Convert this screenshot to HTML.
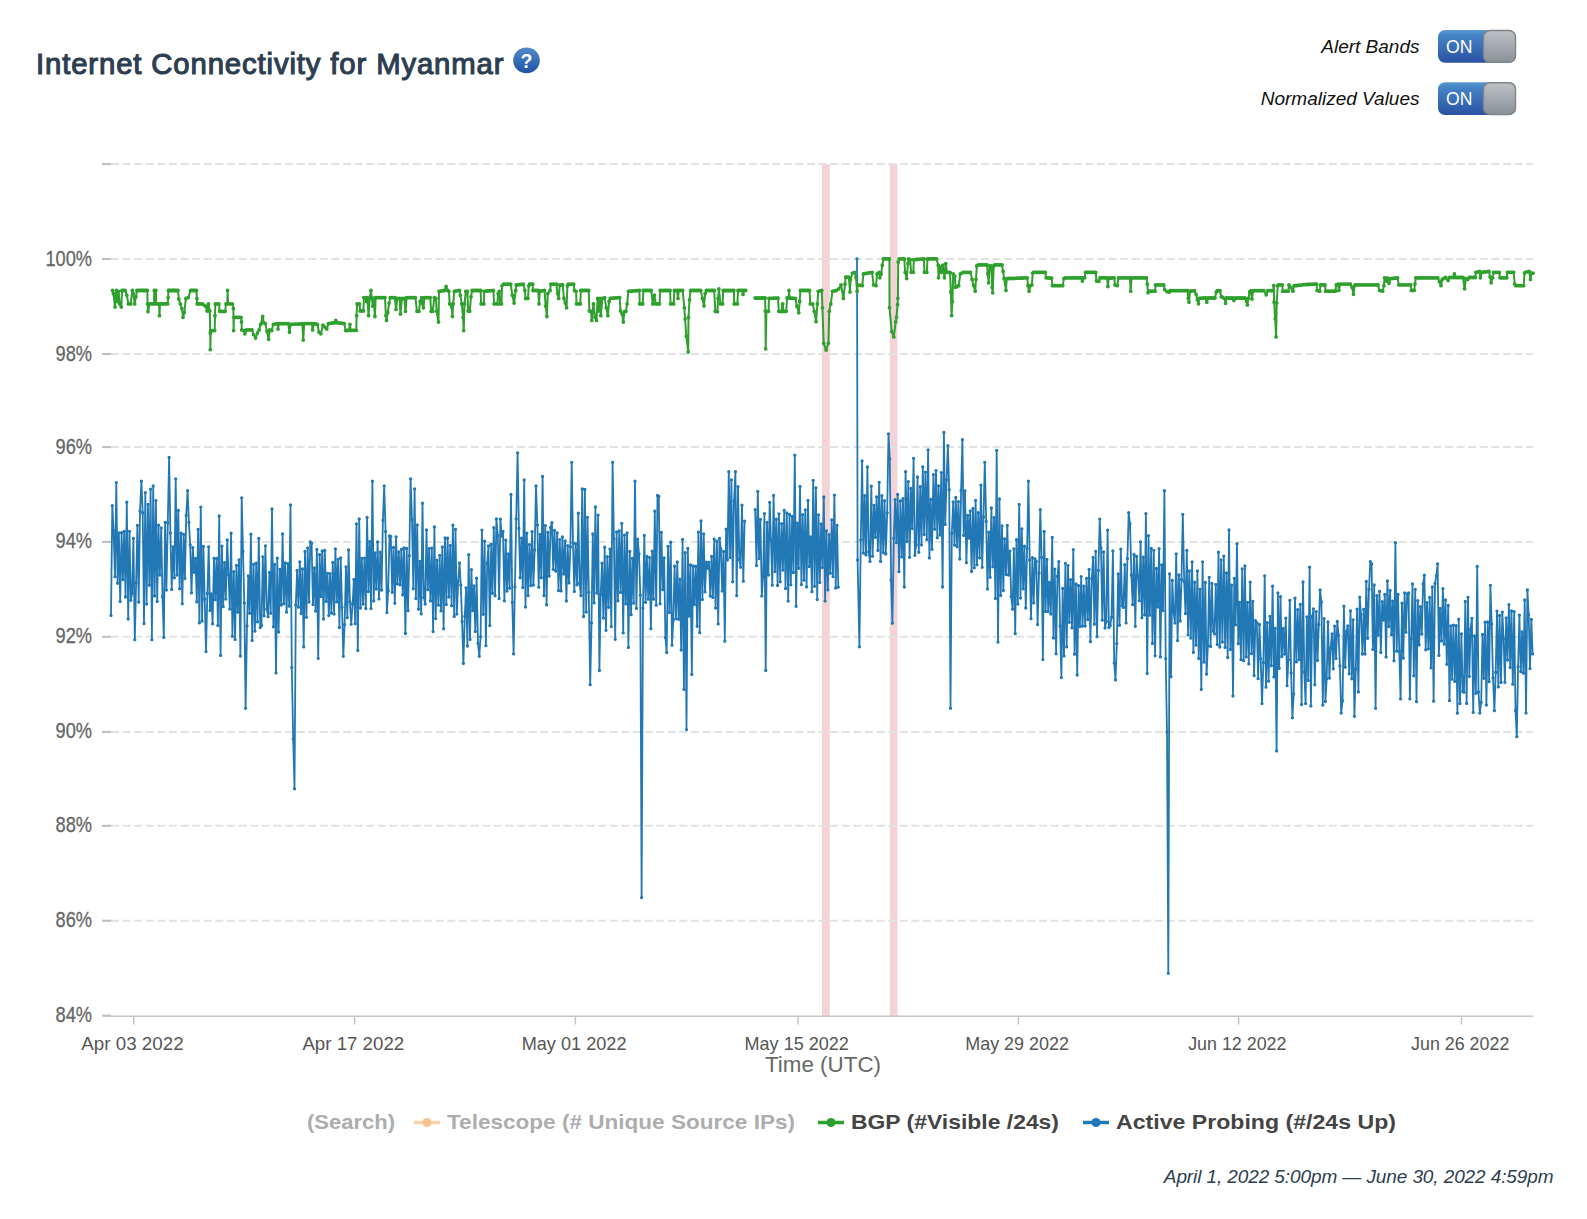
<!DOCTYPE html>
<html><head><meta charset="utf-8"><title>Internet Connectivity for Myanmar</title>
<style>
html,body{margin:0;padding:0;background:#fff;}
body{width:1587px;height:1219px;position:relative;overflow:hidden;font-family:"Liberation Sans",sans-serif;}
svg text{font-family:"Liberation Sans",sans-serif;}
.title{position:absolute;left:36px;top:44px;font-size:29.3px;line-height:40px;font-weight:normal;-webkit-text-stroke:1.1px #2c3e50;color:#2c3e50;white-space:nowrap;letter-spacing:0.87px;}
.lab{position:absolute;right:167.5px;font-style:italic;font-size:19px;line-height:24px;color:#111;white-space:nowrap;}
.foot{position:absolute;right:33.5px;top:1165px;font-style:italic;font-size:19px;line-height:24px;color:#2c3e50;white-space:nowrap;letter-spacing:-0.1px;}
</style></head><body>
<svg width="1587" height="1219" viewBox="0 0 1587 1219" style="position:absolute;left:0;top:0">
<defs><linearGradient id="gb" x1="0" y1="0" x2="0" y2="1"><stop offset="0" stop-color="#5a98d2"/><stop offset="0.15" stop-color="#4485c6"/><stop offset="1" stop-color="#2b52a3"/></linearGradient><linearGradient id="gk" x1="0" y1="0" x2="0" y2="1"><stop offset="0" stop-color="#bcc1c5"/><stop offset="1" stop-color="#8a9197"/></linearGradient><linearGradient id="gq" x1="0" y1="0" x2="0" y2="1"><stop offset="0" stop-color="#5288c9"/><stop offset="1" stop-color="#1c55a6"/></linearGradient></defs>
<rect x="822" y="164" width="7.8" height="852" fill="#f4d3d7"/>
<rect x="889.8" y="164" width="7.6" height="852" fill="#f4d3d7"/>
<line x1="111" x2="1533" y1="164.1" y2="164.1" stroke="#e2e2e2" stroke-width="2" stroke-dasharray="8 3.6"/>
<line x1="111" x2="1533" y1="259.0" y2="259.0" stroke="#e2e2e2" stroke-width="2" stroke-dasharray="8 3.6"/>
<line x1="111" x2="1533" y1="354.0" y2="354.0" stroke="#e2e2e2" stroke-width="2" stroke-dasharray="8 3.6"/>
<line x1="111" x2="1533" y1="447.1" y2="447.1" stroke="#e2e2e2" stroke-width="2" stroke-dasharray="8 3.6"/>
<line x1="111" x2="1533" y1="541.9" y2="541.9" stroke="#e2e2e2" stroke-width="2" stroke-dasharray="8 3.6"/>
<line x1="111" x2="1533" y1="636.8" y2="636.8" stroke="#e2e2e2" stroke-width="2" stroke-dasharray="8 3.6"/>
<line x1="111" x2="1533" y1="731.9" y2="731.9" stroke="#e2e2e2" stroke-width="2" stroke-dasharray="8 3.6"/>
<line x1="111" x2="1533" y1="825.8" y2="825.8" stroke="#e2e2e2" stroke-width="2" stroke-dasharray="8 3.6"/>
<line x1="111" x2="1533" y1="920.7" y2="920.7" stroke="#e2e2e2" stroke-width="2" stroke-dasharray="8 3.6"/>
<line x1="102" x2="111" y1="164.1" y2="164.1" stroke="#bdbdbd" stroke-width="2"/>
<line x1="102" x2="111" y1="259.0" y2="259.0" stroke="#bdbdbd" stroke-width="2"/>
<line x1="102" x2="111" y1="354.0" y2="354.0" stroke="#bdbdbd" stroke-width="2"/>
<line x1="102" x2="111" y1="447.1" y2="447.1" stroke="#bdbdbd" stroke-width="2"/>
<line x1="102" x2="111" y1="541.9" y2="541.9" stroke="#bdbdbd" stroke-width="2"/>
<line x1="102" x2="111" y1="636.8" y2="636.8" stroke="#bdbdbd" stroke-width="2"/>
<line x1="102" x2="111" y1="731.9" y2="731.9" stroke="#bdbdbd" stroke-width="2"/>
<line x1="102" x2="111" y1="825.8" y2="825.8" stroke="#bdbdbd" stroke-width="2"/>
<line x1="102" x2="111" y1="920.7" y2="920.7" stroke="#bdbdbd" stroke-width="2"/>
<line x1="102" x2="111" y1="1015.6" y2="1015.6" stroke="#bdbdbd" stroke-width="2"/>
<line x1="103" x2="1533" y1="1016.2" y2="1016.2" stroke="#c6c6c6" stroke-width="1.6"/>
<line x1="133.8" x2="133.8" y1="1016" y2="1024.5" stroke="#c6c6c6" stroke-width="1.5"/>
<line x1="354.6" x2="354.6" y1="1016" y2="1024.5" stroke="#c6c6c6" stroke-width="1.5"/>
<line x1="575.4" x2="575.4" y1="1016" y2="1024.5" stroke="#c6c6c6" stroke-width="1.5"/>
<line x1="798.0" x2="798.0" y1="1016" y2="1024.5" stroke="#c6c6c6" stroke-width="1.5"/>
<line x1="1018.4" x2="1018.4" y1="1016" y2="1024.5" stroke="#c6c6c6" stroke-width="1.5"/>
<line x1="1238.6" x2="1238.6" y1="1016" y2="1024.5" stroke="#c6c6c6" stroke-width="1.5"/>
<line x1="1461.5" x2="1461.5" y1="1016" y2="1024.5" stroke="#c6c6c6" stroke-width="1.5"/>
<text x="92" y="265.5" text-anchor="end" font-size="22.6" fill="#666" stroke="#666" stroke-width="0.3" textLength="46.5" lengthAdjust="spacingAndGlyphs">100%</text>
<text x="92" y="360.5" text-anchor="end" font-size="22.6" fill="#666" stroke="#666" stroke-width="0.3" textLength="36.5" lengthAdjust="spacingAndGlyphs">98%</text>
<text x="92" y="453.6" text-anchor="end" font-size="22.6" fill="#666" stroke="#666" stroke-width="0.3" textLength="36.5" lengthAdjust="spacingAndGlyphs">96%</text>
<text x="92" y="548.4" text-anchor="end" font-size="22.6" fill="#666" stroke="#666" stroke-width="0.3" textLength="36.5" lengthAdjust="spacingAndGlyphs">94%</text>
<text x="92" y="643.3" text-anchor="end" font-size="22.6" fill="#666" stroke="#666" stroke-width="0.3" textLength="36.5" lengthAdjust="spacingAndGlyphs">92%</text>
<text x="92" y="738.4" text-anchor="end" font-size="22.6" fill="#666" stroke="#666" stroke-width="0.3" textLength="36.5" lengthAdjust="spacingAndGlyphs">90%</text>
<text x="92" y="832.3" text-anchor="end" font-size="22.6" fill="#666" stroke="#666" stroke-width="0.3" textLength="36.5" lengthAdjust="spacingAndGlyphs">88%</text>
<text x="92" y="927.2" text-anchor="end" font-size="22.6" fill="#666" stroke="#666" stroke-width="0.3" textLength="36.5" lengthAdjust="spacingAndGlyphs">86%</text>
<text x="92" y="1022.1" text-anchor="end" font-size="22.6" fill="#666" stroke="#666" stroke-width="0.3" textLength="36.5" lengthAdjust="spacingAndGlyphs">84%</text>
<text x="132.5" y="1049.8" text-anchor="middle" font-size="19" fill="#555" textLength="102.3" lengthAdjust="spacingAndGlyphs">Apr 03 2022</text>
<text x="353.3" y="1049.8" text-anchor="middle" font-size="19" fill="#555" textLength="101.8" lengthAdjust="spacingAndGlyphs">Apr 17 2022</text>
<text x="574.1" y="1049.8" text-anchor="middle" font-size="19" fill="#555" textLength="104.8" lengthAdjust="spacingAndGlyphs">May 01 2022</text>
<text x="796.7" y="1049.8" text-anchor="middle" font-size="19" fill="#555" textLength="104.3" lengthAdjust="spacingAndGlyphs">May 15 2022</text>
<text x="1017.1" y="1049.8" text-anchor="middle" font-size="19" fill="#555" textLength="103.8" lengthAdjust="spacingAndGlyphs">May 29 2022</text>
<text x="1237.3" y="1049.8" text-anchor="middle" font-size="19" fill="#555" textLength="98.3" lengthAdjust="spacingAndGlyphs">Jun 12 2022</text>
<text x="1460.2" y="1049.8" text-anchor="middle" font-size="19" fill="#555" textLength="98.3" lengthAdjust="spacingAndGlyphs">Jun 26 2022</text>
<text x="823" y="1071.6" text-anchor="middle" font-size="21.8" fill="#686868" textLength="116" lengthAdjust="spacingAndGlyphs">Time (UTC)</text>
<path d="M111.0 615.4 L112.3 505.7 L113.6 530.9 L115.0 576.7 L116.3 482.6 L117.6 583.3 L118.9 532.9 L120.2 601.6 L121.6 532.6 L122.9 579.7 L124.2 531.3 L125.5 597.0 L126.8 502.2 L128.2 619.0 L129.5 531.3 L130.8 600.3 L132.1 593.2 L133.4 538.4 L134.8 639.7 L136.1 583.2 L137.4 525.3 L138.7 602.2 L140.0 511.0 L141.4 481.2 L142.7 513.0 L144.0 623.6 L145.3 492.7 L146.6 604.1 L148.0 504.3 L149.3 585.3 L150.6 489.2 L151.9 639.7 L153.2 485.9 L154.6 595.9 L155.9 500.6 L157.2 601.4 L158.5 525.2 L159.8 575.0 L161.2 527.9 L162.5 596.7 L163.8 637.4 L165.1 522.3 L166.4 590.1 L167.8 522.7 L169.1 457.5 L170.4 533.1 L171.7 589.4 L173.0 546.8 L174.4 577.8 L175.7 478.8 L177.0 575.1 L178.3 510.3 L179.6 588.8 L181.0 533.1 L182.3 603.8 L183.6 534.3 L184.9 578.6 L186.2 515.5 L187.6 490.7 L188.9 522.5 L190.2 544.9 L191.5 592.9 L192.8 547.6 L194.2 572.3 L195.5 558.4 L196.8 601.9 L198.1 529.4 L199.4 622.9 L200.8 507.1 L202.1 621.0 L203.4 546.4 L204.7 599.2 L206.0 651.6 L207.4 593.3 L208.7 546.8 L210.0 610.4 L211.3 593.8 L212.6 623.8 L214.0 558.3 L215.3 599.7 L216.6 558.4 L217.9 625.5 L219.2 515.9 L220.6 655.4 L221.9 546.2 L223.2 606.7 L224.5 562.6 L225.8 599.1 L227.2 539.9 L228.5 574.6 L229.8 609.1 L231.1 533.2 L232.4 636.3 L233.8 571.7 L235.1 639.4 L236.4 565.5 L237.7 612.2 L239.0 560.0 L240.4 656.1 L241.7 497.8 L243.0 551.6 L244.3 603.1 L245.6 708.3 L247.0 625.9 L248.3 575.9 L249.6 613.3 L250.9 534.2 L252.2 640.4 L253.6 564.3 L254.9 631.2 L256.2 563.1 L257.5 621.9 L258.8 538.5 L260.2 627.6 L261.5 625.6 L262.8 556.8 L264.1 615.8 L265.4 545.8 L266.8 609.2 L268.1 616.7 L269.4 572.3 L270.7 613.3 L272.0 509.0 L273.4 626.8 L274.7 564.3 L276.0 672.9 L277.3 558.1 L278.6 632.0 L280.0 569.4 L281.3 605.1 L282.6 533.9 L283.9 603.7 L285.2 562.8 L286.6 612.2 L287.9 563.7 L289.2 606.2 L290.5 504.9 L291.8 667.4 L293.2 739.1 L294.5 788.8 L295.8 605.0 L297.1 570.5 L298.4 607.2 L299.8 561.8 L301.1 613.6 L302.4 569.0 L303.7 646.9 L305.0 551.5 L306.4 617.3 L307.7 548.0 L309.0 602.0 L310.3 542.0 L311.6 543.4 L313.0 604.6 L314.3 567.9 L315.6 611.1 L316.9 549.4 L318.2 658.3 L319.6 554.7 L320.9 596.5 L322.2 551.0 L323.5 619.1 L324.8 550.3 L326.2 601.4 L327.5 573.3 L328.8 615.6 L330.1 573.6 L331.4 613.1 L332.8 562.5 L334.1 614.1 L335.4 548.8 L336.7 601.9 L338.0 559.3 L339.4 627.5 L340.7 558.0 L342.0 607.1 L343.3 656.3 L344.6 624.6 L346.0 566.8 L347.3 617.6 L348.6 549.9 L349.9 601.9 L351.2 624.3 L352.6 604.2 L353.9 579.4 L355.2 623.7 L356.5 523.8 L357.8 650.4 L359.2 519.0 L360.5 608.0 L361.8 558.3 L363.1 604.2 L364.4 558.1 L365.8 608.5 L367.1 517.4 L368.4 591.6 L369.7 541.6 L371.0 608.6 L372.4 481.2 L373.7 601.0 L375.0 552.9 L376.3 589.0 L377.6 541.9 L379.0 598.9 L380.3 552.2 L381.6 590.2 L382.9 520.3 L384.2 485.9 L385.6 531.6 L386.9 612.6 L388.2 590.7 L389.5 536.0 L390.8 536.4 L392.2 592.3 L393.5 547.4 L394.8 603.3 L396.1 536.8 L397.4 583.9 L398.8 552.0 L400.1 584.8 L401.4 549.4 L402.7 594.9 L404.0 548.0 L405.4 633.5 L406.7 548.4 L408.0 610.7 L409.3 555.8 L410.6 478.8 L412.0 519.6 L413.3 588.8 L414.6 488.9 L415.9 598.5 L417.2 524.9 L418.6 609.2 L419.9 561.5 L421.2 613.9 L422.5 503.2 L423.8 597.4 L425.2 604.0 L426.5 530.0 L427.8 589.7 L429.1 548.6 L430.4 600.9 L431.8 548.1 L433.1 631.6 L434.4 527.0 L435.7 618.6 L437.0 560.2 L438.4 605.2 L439.7 555.3 L441.0 610.9 L442.3 547.0 L443.6 628.8 L445.0 537.8 L446.3 604.6 L447.6 538.2 L448.9 597.0 L450.2 545.5 L451.6 605.7 L452.9 525.2 L454.2 616.4 L455.5 529.3 L456.8 614.1 L458.2 581.3 L459.5 563.0 L460.8 585.2 L462.1 621.4 L463.4 663.4 L464.8 616.3 L466.1 587.8 L467.4 646.0 L468.7 554.7 L470.0 639.4 L471.4 569.6 L472.7 610.7 L474.0 585.8 L475.3 631.6 L476.6 578.2 L478.0 643.3 L479.3 656.3 L480.6 636.8 L481.9 530.1 L483.2 614.3 L484.6 541.2 L485.9 645.7 L487.2 563.4 L488.5 545.9 L489.8 625.6 L491.2 544.2 L492.5 593.3 L493.8 527.6 L495.1 595.8 L496.4 518.9 L497.8 535.6 L499.1 598.5 L500.4 519.2 L501.7 536.1 L503.0 531.3 L504.4 600.8 L505.7 540.1 L507.0 591.1 L508.3 553.9 L509.6 588.3 L511.0 494.4 L512.3 602.4 L513.6 653.9 L514.9 587.0 L516.2 518.9 L517.6 452.8 L518.9 528.3 L520.2 577.7 L521.5 538.1 L522.8 587.7 L524.2 480.0 L525.5 607.1 L526.8 533.2 L528.1 595.7 L529.4 544.6 L530.8 585.6 L532.1 531.7 L533.4 585.0 L534.7 549.9 L536.0 485.9 L537.4 525.1 L538.7 587.2 L540.0 534.4 L541.3 577.7 L542.6 476.5 L544.0 595.7 L545.3 525.6 L546.6 604.9 L547.9 532.5 L549.2 576.1 L550.6 527.4 L551.9 522.7 L553.2 569.3 L554.5 530.3 L555.8 571.2 L557.2 533.0 L558.5 590.6 L559.8 539.6 L561.1 590.9 L562.4 536.9 L563.8 574.0 L565.1 541.0 L566.4 601.0 L567.7 545.6 L569.0 582.9 L570.4 547.0 L571.7 462.3 L573.0 542.7 L574.3 591.5 L575.6 543.7 L577.0 584.8 L578.3 513.2 L579.6 583.0 L580.9 595.7 L582.2 488.8 L583.6 616.5 L584.9 489.4 L586.2 612.1 L587.5 517.3 L588.8 592.3 L590.2 684.7 L591.5 623.0 L592.8 534.0 L594.1 602.9 L595.4 506.9 L596.8 593.0 L598.1 515.2 L599.4 670.5 L600.7 594.4 L602.0 563.2 L603.4 618.1 L604.7 547.2 L606.0 630.3 L607.3 556.7 L608.6 607.3 L610.0 549.1 L611.3 626.6 L612.6 462.3 L613.9 538.8 L615.2 639.3 L616.6 531.9 L617.9 600.8 L619.2 530.9 L620.5 592.4 L621.8 523.3 L623.2 632.9 L624.5 535.1 L625.8 603.8 L627.1 533.0 L628.4 647.4 L629.8 551.5 L631.1 614.7 L632.4 558.3 L633.7 603.2 L635.0 481.2 L636.4 608.4 L637.7 539.1 L639.0 553.8 L640.3 595.2 L641.6 897.6 L643.0 608.1 L644.3 535.5 L645.6 602.3 L646.9 556.5 L648.2 599.2 L649.6 557.6 L650.9 628.7 L652.2 551.1 L653.5 599.2 L654.8 511.2 L656.2 605.2 L657.5 495.4 L658.8 496.5 L660.1 603.8 L661.4 532.3 L662.8 589.7 L664.1 557.9 L665.4 637.5 L666.7 652.5 L668.0 546.5 L669.4 612.6 L670.7 542.2 L672.0 645.2 L673.3 620.3 L674.6 566.2 L676.0 618.6 L677.3 562.0 L678.6 619.3 L679.9 579.2 L681.2 650.0 L682.6 539.4 L683.9 689.4 L685.2 552.7 L686.5 729.6 L687.8 548.5 L689.2 616.2 L690.5 565.0 L691.8 674.4 L693.1 566.0 L694.4 604.5 L695.8 566.5 L697.1 626.3 L698.4 532.1 L699.7 632.7 L701.0 521.0 L702.4 599.6 L703.7 534.0 L705.0 591.9 L706.3 562.1 L707.6 568.3 L709.0 562.5 L710.3 596.0 L711.6 556.3 L712.9 597.4 L714.2 539.1 L715.6 608.1 L716.9 541.2 L718.2 623.9 L719.5 538.4 L720.8 548.9 L722.2 591.0 L723.5 551.5 L724.8 641.2 L726.1 529.1 L727.4 560.1 L728.8 471.7 L730.1 557.4 L731.4 479.8 L732.7 581.8 L734.0 501.1 L735.4 471.7 L736.7 595.6 L738.0 486.7 L739.3 559.7 L740.6 567.3 L742.0 505.2 L743.3 581.2 L744.6 521.1" fill="none" stroke="#2278b5" stroke-width="1.8" stroke-linejoin="round"/>
<path d="M111.0 615.4h0M112.3 505.7h0M113.6 530.9h0M115.0 576.7h0M116.3 482.6h0M117.6 583.3h0M118.9 532.9h0M120.2 601.6h0M121.6 532.6h0M122.9 579.7h0M124.2 531.3h0M125.5 597.0h0M126.8 502.2h0M128.2 619.0h0M129.5 531.3h0M130.8 600.3h0M132.1 593.2h0M133.4 538.4h0M134.8 639.7h0M136.1 583.2h0M137.4 525.3h0M138.7 602.2h0M140.0 511.0h0M141.4 481.2h0M142.7 513.0h0M144.0 623.6h0M145.3 492.7h0M146.6 604.1h0M148.0 504.3h0M149.3 585.3h0M150.6 489.2h0M151.9 639.7h0M153.2 485.9h0M154.6 595.9h0M155.9 500.6h0M157.2 601.4h0M158.5 525.2h0M159.8 575.0h0M161.2 527.9h0M162.5 596.7h0M163.8 637.4h0M165.1 522.3h0M166.4 590.1h0M167.8 522.7h0M169.1 457.5h0M170.4 533.1h0M171.7 589.4h0M173.0 546.8h0M174.4 577.8h0M175.7 478.8h0M177.0 575.1h0M178.3 510.3h0M179.6 588.8h0M181.0 533.1h0M182.3 603.8h0M183.6 534.3h0M184.9 578.6h0M186.2 515.5h0M187.6 490.7h0M188.9 522.5h0M190.2 544.9h0M191.5 592.9h0M192.8 547.6h0M194.2 572.3h0M195.5 558.4h0M196.8 601.9h0M198.1 529.4h0M199.4 622.9h0M200.8 507.1h0M202.1 621.0h0M203.4 546.4h0M204.7 599.2h0M206.0 651.6h0M207.4 593.3h0M208.7 546.8h0M210.0 610.4h0M211.3 593.8h0M212.6 623.8h0M214.0 558.3h0M215.3 599.7h0M216.6 558.4h0M217.9 625.5h0M219.2 515.9h0M220.6 655.4h0M221.9 546.2h0M223.2 606.7h0M224.5 562.6h0M225.8 599.1h0M227.2 539.9h0M228.5 574.6h0M229.8 609.1h0M231.1 533.2h0M232.4 636.3h0M233.8 571.7h0M235.1 639.4h0M236.4 565.5h0M237.7 612.2h0M239.0 560.0h0M240.4 656.1h0M241.7 497.8h0M243.0 551.6h0M244.3 603.1h0M245.6 708.3h0M247.0 625.9h0M248.3 575.9h0M249.6 613.3h0M250.9 534.2h0M252.2 640.4h0M253.6 564.3h0M254.9 631.2h0M256.2 563.1h0M257.5 621.9h0M258.8 538.5h0M260.2 627.6h0M261.5 625.6h0M262.8 556.8h0M264.1 615.8h0M265.4 545.8h0M266.8 609.2h0M268.1 616.7h0M269.4 572.3h0M270.7 613.3h0M272.0 509.0h0M273.4 626.8h0M274.7 564.3h0M276.0 672.9h0M277.3 558.1h0M278.6 632.0h0M280.0 569.4h0M281.3 605.1h0M282.6 533.9h0M283.9 603.7h0M285.2 562.8h0M286.6 612.2h0M287.9 563.7h0M289.2 606.2h0M290.5 504.9h0M291.8 667.4h0M293.2 739.1h0M294.5 788.8h0M295.8 605.0h0M297.1 570.5h0M298.4 607.2h0M299.8 561.8h0M301.1 613.6h0M302.4 569.0h0M303.7 646.9h0M305.0 551.5h0M306.4 617.3h0M307.7 548.0h0M309.0 602.0h0M310.3 542.0h0M311.6 543.4h0M313.0 604.6h0M314.3 567.9h0M315.6 611.1h0M316.9 549.4h0M318.2 658.3h0M319.6 554.7h0M320.9 596.5h0M322.2 551.0h0M323.5 619.1h0M324.8 550.3h0M326.2 601.4h0M327.5 573.3h0M328.8 615.6h0M330.1 573.6h0M331.4 613.1h0M332.8 562.5h0M334.1 614.1h0M335.4 548.8h0M336.7 601.9h0M338.0 559.3h0M339.4 627.5h0M340.7 558.0h0M342.0 607.1h0M343.3 656.3h0M344.6 624.6h0M346.0 566.8h0M347.3 617.6h0M348.6 549.9h0M349.9 601.9h0M351.2 624.3h0M352.6 604.2h0M353.9 579.4h0M355.2 623.7h0M356.5 523.8h0M357.8 650.4h0M359.2 519.0h0M360.5 608.0h0M361.8 558.3h0M363.1 604.2h0M364.4 558.1h0M365.8 608.5h0M367.1 517.4h0M368.4 591.6h0M369.7 541.6h0M371.0 608.6h0M372.4 481.2h0M373.7 601.0h0M375.0 552.9h0M376.3 589.0h0M377.6 541.9h0M379.0 598.9h0M380.3 552.2h0M381.6 590.2h0M382.9 520.3h0M384.2 485.9h0M385.6 531.6h0M386.9 612.6h0M388.2 590.7h0M389.5 536.0h0M390.8 536.4h0M392.2 592.3h0M393.5 547.4h0M394.8 603.3h0M396.1 536.8h0M397.4 583.9h0M398.8 552.0h0M400.1 584.8h0M401.4 549.4h0M402.7 594.9h0M404.0 548.0h0M405.4 633.5h0M406.7 548.4h0M408.0 610.7h0M409.3 555.8h0M410.6 478.8h0M412.0 519.6h0M413.3 588.8h0M414.6 488.9h0M415.9 598.5h0M417.2 524.9h0M418.6 609.2h0M419.9 561.5h0M421.2 613.9h0M422.5 503.2h0M423.8 597.4h0M425.2 604.0h0M426.5 530.0h0M427.8 589.7h0M429.1 548.6h0M430.4 600.9h0M431.8 548.1h0M433.1 631.6h0M434.4 527.0h0M435.7 618.6h0M437.0 560.2h0M438.4 605.2h0M439.7 555.3h0M441.0 610.9h0M442.3 547.0h0M443.6 628.8h0M445.0 537.8h0M446.3 604.6h0M447.6 538.2h0M448.9 597.0h0M450.2 545.5h0M451.6 605.7h0M452.9 525.2h0M454.2 616.4h0M455.5 529.3h0M456.8 614.1h0M458.2 581.3h0M459.5 563.0h0M460.8 585.2h0M462.1 621.4h0M463.4 663.4h0M464.8 616.3h0M466.1 587.8h0M467.4 646.0h0M468.7 554.7h0M470.0 639.4h0M471.4 569.6h0M472.7 610.7h0M474.0 585.8h0M475.3 631.6h0M476.6 578.2h0M478.0 643.3h0M479.3 656.3h0M480.6 636.8h0M481.9 530.1h0M483.2 614.3h0M484.6 541.2h0M485.9 645.7h0M487.2 563.4h0M488.5 545.9h0M489.8 625.6h0M491.2 544.2h0M492.5 593.3h0M493.8 527.6h0M495.1 595.8h0M496.4 518.9h0M497.8 535.6h0M499.1 598.5h0M500.4 519.2h0M501.7 536.1h0M503.0 531.3h0M504.4 600.8h0M505.7 540.1h0M507.0 591.1h0M508.3 553.9h0M509.6 588.3h0M511.0 494.4h0M512.3 602.4h0M513.6 653.9h0M514.9 587.0h0M516.2 518.9h0M517.6 452.8h0M518.9 528.3h0M520.2 577.7h0M521.5 538.1h0M522.8 587.7h0M524.2 480.0h0M525.5 607.1h0M526.8 533.2h0M528.1 595.7h0M529.4 544.6h0M530.8 585.6h0M532.1 531.7h0M533.4 585.0h0M534.7 549.9h0M536.0 485.9h0M537.4 525.1h0M538.7 587.2h0M540.0 534.4h0M541.3 577.7h0M542.6 476.5h0M544.0 595.7h0M545.3 525.6h0M546.6 604.9h0M547.9 532.5h0M549.2 576.1h0M550.6 527.4h0M551.9 522.7h0M553.2 569.3h0M554.5 530.3h0M555.8 571.2h0M557.2 533.0h0M558.5 590.6h0M559.8 539.6h0M561.1 590.9h0M562.4 536.9h0M563.8 574.0h0M565.1 541.0h0M566.4 601.0h0M567.7 545.6h0M569.0 582.9h0M570.4 547.0h0M571.7 462.3h0M573.0 542.7h0M574.3 591.5h0M575.6 543.7h0M577.0 584.8h0M578.3 513.2h0M579.6 583.0h0M580.9 595.7h0M582.2 488.8h0M583.6 616.5h0M584.9 489.4h0M586.2 612.1h0M587.5 517.3h0M588.8 592.3h0M590.2 684.7h0M591.5 623.0h0M592.8 534.0h0M594.1 602.9h0M595.4 506.9h0M596.8 593.0h0M598.1 515.2h0M599.4 670.5h0M600.7 594.4h0M602.0 563.2h0M603.4 618.1h0M604.7 547.2h0M606.0 630.3h0M607.3 556.7h0M608.6 607.3h0M610.0 549.1h0M611.3 626.6h0M612.6 462.3h0M613.9 538.8h0M615.2 639.3h0M616.6 531.9h0M617.9 600.8h0M619.2 530.9h0M620.5 592.4h0M621.8 523.3h0M623.2 632.9h0M624.5 535.1h0M625.8 603.8h0M627.1 533.0h0M628.4 647.4h0M629.8 551.5h0M631.1 614.7h0M632.4 558.3h0M633.7 603.2h0M635.0 481.2h0M636.4 608.4h0M637.7 539.1h0M639.0 553.8h0M640.3 595.2h0M641.6 897.6h0M643.0 608.1h0M644.3 535.5h0M645.6 602.3h0M646.9 556.5h0M648.2 599.2h0M649.6 557.6h0M650.9 628.7h0M652.2 551.1h0M653.5 599.2h0M654.8 511.2h0M656.2 605.2h0M657.5 495.4h0M658.8 496.5h0M660.1 603.8h0M661.4 532.3h0M662.8 589.7h0M664.1 557.9h0M665.4 637.5h0M666.7 652.5h0M668.0 546.5h0M669.4 612.6h0M670.7 542.2h0M672.0 645.2h0M673.3 620.3h0M674.6 566.2h0M676.0 618.6h0M677.3 562.0h0M678.6 619.3h0M679.9 579.2h0M681.2 650.0h0M682.6 539.4h0M683.9 689.4h0M685.2 552.7h0M686.5 729.6h0M687.8 548.5h0M689.2 616.2h0M690.5 565.0h0M691.8 674.4h0M693.1 566.0h0M694.4 604.5h0M695.8 566.5h0M697.1 626.3h0M698.4 532.1h0M699.7 632.7h0M701.0 521.0h0M702.4 599.6h0M703.7 534.0h0M705.0 591.9h0M706.3 562.1h0M707.6 568.3h0M709.0 562.5h0M710.3 596.0h0M711.6 556.3h0M712.9 597.4h0M714.2 539.1h0M715.6 608.1h0M716.9 541.2h0M718.2 623.9h0M719.5 538.4h0M720.8 548.9h0M722.2 591.0h0M723.5 551.5h0M724.8 641.2h0M726.1 529.1h0M727.4 560.1h0M728.8 471.7h0M730.1 557.4h0M731.4 479.8h0M732.7 581.8h0M734.0 501.1h0M735.4 471.7h0M736.7 595.6h0M738.0 486.7h0M739.3 559.7h0M740.6 567.3h0M742.0 505.2h0M743.3 581.2h0M744.6 521.1h0" fill="none" stroke="#2278b5" stroke-width="3.3" stroke-linecap="round"/>
<path d="M755.2 509.6 L756.5 565.6 L757.8 491.5 L759.1 558.6 L760.4 519.4 L761.8 596.1 L763.1 576.4 L764.4 513.6 L765.7 670.5 L767.0 522.5 L768.4 575.0 L769.7 502.3 L771.0 540.5 L772.3 585.2 L773.6 495.4 L775.0 571.5 L776.3 519.2 L777.6 585.5 L778.9 513.8 L780.2 581.8 L781.6 523.6 L782.9 570.1 L784.2 510.3 L785.5 588.6 L786.8 512.9 L788.2 601.1 L789.5 514.4 L790.8 584.8 L792.1 516.3 L793.4 572.5 L794.8 455.2 L796.1 606.3 L797.4 523.1 L798.7 568.3 L800.0 486.5 L801.4 584.6 L802.7 514.7 L804.0 580.2 L805.3 509.8 L806.6 586.9 L808.0 500.5 L809.3 566.6 L810.6 536.8 L811.9 591.7 L813.2 480.5 L814.6 586.3 L815.9 487.8 L817.2 599.6 L818.5 514.8 L819.8 582.6 L821.2 523.9 L822.5 567.6 L823.8 497.0 L825.1 601.1 L826.4 530.8 L827.8 589.9 L829.1 534.6 L830.4 573.3 L831.7 519.8 L833.0 576.6 L834.4 495.1 L835.7 588.0 L837.0 525.4 L838.3 587.2" fill="none" stroke="#2278b5" stroke-width="1.8" stroke-linejoin="round"/>
<path d="M755.2 509.6h0M756.5 565.6h0M757.8 491.5h0M759.1 558.6h0M760.4 519.4h0M761.8 596.1h0M763.1 576.4h0M764.4 513.6h0M765.7 670.5h0M767.0 522.5h0M768.4 575.0h0M769.7 502.3h0M771.0 540.5h0M772.3 585.2h0M773.6 495.4h0M775.0 571.5h0M776.3 519.2h0M777.6 585.5h0M778.9 513.8h0M780.2 581.8h0M781.6 523.6h0M782.9 570.1h0M784.2 510.3h0M785.5 588.6h0M786.8 512.9h0M788.2 601.1h0M789.5 514.4h0M790.8 584.8h0M792.1 516.3h0M793.4 572.5h0M794.8 455.2h0M796.1 606.3h0M797.4 523.1h0M798.7 568.3h0M800.0 486.5h0M801.4 584.6h0M802.7 514.7h0M804.0 580.2h0M805.3 509.8h0M806.6 586.9h0M808.0 500.5h0M809.3 566.6h0M810.6 536.8h0M811.9 591.7h0M813.2 480.5h0M814.6 586.3h0M815.9 487.8h0M817.2 599.6h0M818.5 514.8h0M819.8 582.6h0M821.2 523.9h0M822.5 567.6h0M823.8 497.0h0M825.1 601.1h0M826.4 530.8h0M827.8 589.9h0M829.1 534.6h0M830.4 573.3h0M831.7 519.8h0M833.0 576.6h0M834.4 495.1h0M835.7 588.0h0M837.0 525.4h0M838.3 587.2h0" fill="none" stroke="#2278b5" stroke-width="3.3" stroke-linecap="round"/>
<path d="M857.0 258.8 L857.6 560.0 L859.4 646.8 L860.8 539.8 L862.1 460.9 L863.4 553.1 L864.7 495.6 L866.0 554.9 L867.4 467.0 L868.7 551.9 L870.0 561.4 L871.3 486.2 L872.6 556.2 L874.0 505.3 L875.3 537.3 L876.6 496.9 L877.9 550.4 L879.2 482.3 L880.6 561.4 L881.9 495.7 L883.2 552.7 L884.5 500.7 L885.8 554.0 L887.2 512.8 L888.5 433.9 L889.8 458.8 L891.1 580.2 L892.4 623.2 L893.8 538.2 L895.1 499.7 L896.4 542.6 L897.7 494.5 L899.0 571.7 L900.4 501.0 L901.7 556.9 L903.0 498.7 L904.3 587.0 L905.6 471.7 L907.0 541.5 L908.3 481.6 L909.6 557.3 L910.9 488.4 L912.2 528.6 L913.6 458.4 L914.9 555.3 L916.2 545.0 L917.5 476.9 L918.8 552.3 L920.2 486.7 L921.5 544.9 L922.8 467.0 L924.1 534.5 L925.4 472.1 L926.8 539.6 L928.1 449.9 L929.4 557.9 L930.7 499.5 L932.0 549.3 L933.4 474.6 L934.7 529.2 L936.0 470.6 L937.3 537.8 L938.6 485.8 L940.0 535.0 L941.3 472.6 L942.6 587.0 L943.9 432.4 L945.2 524.4 L946.6 479.8 L947.9 445.7 L949.2 489.7 L950.5 708.3 L951.8 533.3 L953.2 502.0 L954.5 545.1 L955.8 497.5 L957.1 546.7 L958.4 501.6 L959.8 559.0 L961.1 490.7 L962.4 439.7 L963.7 535.4 L965.0 490.9 L966.4 562.7 L967.7 515.5 L969.0 538.2 L970.3 510.9 L971.6 571.5 L973.0 508.4 L974.3 567.8 L975.6 500.3 L976.9 564.8 L978.2 512.7 L979.6 557.9 L980.9 485.2 L982.2 567.3 L983.5 517.0 L984.8 462.3 L986.2 521.5 L987.5 589.1 L988.8 532.1 L990.1 577.3 L991.4 508.0 L992.8 566.8 L994.1 517.7 L995.4 598.4 L996.7 450.4 L998.0 642.1 L999.4 498.9 L1000.7 595.4 L1002.0 525.8 L1003.3 590.5 L1004.6 538.8 L1006.0 574.6 L1007.3 525.3 L1008.6 575.0 L1009.9 551.2 L1011.2 596.6 L1012.6 609.2 L1013.9 548.9 L1015.2 633.7 L1016.5 539.7 L1017.8 604.0 L1019.2 504.4 L1020.5 598.1 L1021.8 529.0 L1023.1 588.8 L1024.4 546.2 L1025.8 608.0 L1027.1 548.6 L1028.4 481.2 L1029.7 560.0 L1031.0 618.7 L1032.4 557.6 L1033.7 602.9 L1035.0 559.0 L1036.3 561.5 L1037.6 624.6 L1039.0 573.2 L1040.3 509.6 L1041.6 557.4 L1042.9 659.6 L1044.2 531.5 L1045.6 611.4 L1046.9 559.4 L1048.2 611.6 L1049.5 582.3 L1050.8 614.0 L1052.2 537.4 L1053.5 638.0 L1054.8 569.1 L1056.1 653.8 L1057.4 576.5 L1058.8 561.6 L1060.1 626.0 L1061.4 677.6 L1062.7 588.4 L1064.0 655.9 L1065.4 563.3 L1066.7 646.9 L1068.0 565.6 L1069.3 622.3 L1070.6 579.7 L1072.0 627.9 L1073.3 549.6 L1074.6 654.2 L1075.9 584.0 L1077.2 675.0 L1078.6 585.7 L1079.9 626.5 L1081.2 576.6 L1082.5 626.1 L1083.8 586.2 L1085.2 626.1 L1086.5 578.3 L1087.8 619.6 L1089.1 569.5 L1090.4 641.7 L1091.8 578.5 L1093.1 557.5 L1094.4 624.2 L1095.7 551.3 L1097.0 636.7 L1098.4 570.3 L1099.7 519.1 L1101.0 548.3 L1102.3 620.2 L1103.6 551.9 L1105.0 628.1 L1106.3 621.5 L1107.6 530.1 L1108.9 627.5 L1110.2 625.5 L1111.6 617.2 L1112.9 551.0 L1114.2 663.0 L1115.5 679.9 L1116.8 643.5 L1118.2 573.9 L1119.5 625.3 L1120.8 549.1 L1122.1 605.8 L1123.4 607.4 L1124.8 564.7 L1126.1 622.9 L1127.4 558.5 L1128.7 512.7 L1130.0 523.8 L1131.4 575.2 L1132.7 604.7 L1134.0 554.4 L1135.3 626.3 L1136.6 556.3 L1138.0 576.4 L1139.3 600.7 L1140.6 541.8 L1141.9 617.8 L1143.2 557.1 L1144.6 614.9 L1145.9 513.7 L1147.2 673.5 L1148.5 535.6 L1149.8 615.2 L1151.2 548.3 L1152.5 643.4 L1153.8 550.3 L1155.1 655.8 L1156.4 568.5 L1157.8 607.1 L1159.1 548.7 L1160.4 656.9 L1161.7 565.0 L1163.0 610.7 L1164.4 490.7 L1165.7 658.6 L1167.0 732.0 L1168.3 973.3 L1169.6 573.8 L1171.0 676.8 L1172.3 580.4 L1173.6 611.7 L1174.9 623.1 L1176.2 553.9 L1177.6 640.6 L1178.9 574.9 L1180.2 621.1 L1181.5 579.5 L1182.8 514.3 L1184.2 581.5 L1185.5 613.5 L1186.8 550.4 L1188.1 634.9 L1189.4 571.0 L1190.8 638.1 L1192.1 561.9 L1193.4 652.4 L1194.7 582.2 L1196.0 645.1 L1197.4 570.9 L1198.7 658.5 L1200.0 589.5 L1201.3 689.4 L1202.6 561.8 L1204.0 662.2 L1205.3 582.5 L1206.6 674.2 L1207.9 645.5 L1209.2 577.3 L1210.6 646.5 L1211.9 583.5 L1213.2 631.1 L1214.5 633.9 L1215.8 584.5 L1217.2 644.5 L1218.5 552.2 L1219.8 647.0 L1221.1 559.8 L1222.4 642.1 L1223.8 556.1 L1225.1 647.4 L1226.4 572.9 L1227.7 657.5 L1229.0 529.9 L1230.4 649.5 L1231.7 585.1 L1233.0 696.0 L1234.3 578.5 L1235.6 624.8 L1237.0 543.7 L1238.3 643.7 L1239.6 602.3 L1240.9 659.6 L1242.2 568.9 L1243.6 660.7 L1244.9 565.9 L1246.2 656.9 L1247.5 602.3 L1248.8 663.9 L1250.2 582.1 L1251.5 653.6 L1252.8 601.3 L1254.1 675.5 L1255.4 620.6 L1256.8 622.6 L1258.1 678.7 L1259.4 624.4 L1260.7 658.9 L1262.0 703.6 L1263.4 662.7 L1264.7 575.8 L1266.0 687.2 L1267.3 622.7 L1268.6 681.2 L1270.0 616.3 L1271.3 665.7 L1272.6 586.2 L1273.9 676.9 L1275.2 628.4 L1276.6 750.9 L1277.9 593.0 L1279.2 668.4 L1280.5 596.6 L1281.8 656.5 L1283.2 628.5 L1284.5 654.0 L1285.8 618.1 L1287.1 685.6 L1288.4 659.8 L1289.8 600.3 L1291.1 673.0 L1292.4 717.8 L1293.7 694.1 L1295.0 598.2 L1296.4 661.9 L1297.7 609.7 L1299.0 659.7 L1300.3 604.3 L1301.6 704.5 L1303.0 581.9 L1304.3 672.1 L1305.6 703.6 L1306.9 616.8 L1308.2 680.4 L1309.6 567.2 L1310.9 706.0 L1312.2 616.7 L1313.5 608.8 L1314.8 684.8 L1316.2 611.6 L1317.5 660.4 L1318.8 624.6 L1320.1 590.0 L1321.4 602.0 L1322.8 705.1 L1324.1 618.6 L1325.4 701.5 L1326.7 678.7 L1328.0 621.8 L1329.4 678.0 L1330.7 648.0 L1332.0 633.8 L1333.3 668.8 L1334.6 626.1 L1336.0 658.4 L1337.3 621.5 L1338.6 635.3 L1339.9 666.0 L1341.2 713.1 L1342.6 700.6 L1343.9 606.2 L1345.2 667.2 L1346.5 631.6 L1347.8 625.8 L1349.2 673.8 L1350.5 610.8 L1351.8 678.8 L1353.1 619.8 L1354.4 716.3 L1355.8 669.0 L1357.1 609.1 L1358.4 691.9 L1359.7 597.1 L1361.0 614.4 L1362.4 654.0 L1363.7 609.4 L1365.0 654.1 L1366.3 581.5 L1367.6 638.3 L1369.0 589.4 L1370.3 561.6 L1371.6 564.0 L1372.9 649.4 L1374.2 584.9 L1375.6 708.3 L1376.9 595.7 L1378.2 635.2 L1379.5 591.3 L1380.8 652.5 L1382.2 601.7 L1383.5 620.0 L1384.8 594.5 L1386.1 657.0 L1387.4 580.9 L1388.8 626.5 L1390.1 590.5 L1391.4 634.7 L1392.7 601.2 L1394.0 660.8 L1395.4 542.7 L1396.7 651.2 L1398.0 594.5 L1399.3 651.3 L1400.6 698.9 L1402.0 603.2 L1403.3 658.2 L1404.6 592.8 L1405.9 632.2 L1407.2 593.8 L1408.6 593.0 L1409.9 698.9 L1411.2 638.8 L1412.5 583.9 L1413.8 675.8 L1415.2 589.5 L1416.5 701.7 L1417.8 600.7 L1419.1 644.9 L1420.4 606.7 L1421.8 634.1 L1423.1 583.9 L1424.4 575.2 L1425.7 649.8 L1427.0 602.7 L1428.4 648.8 L1429.7 597.5 L1431.0 667.8 L1432.3 586.9 L1433.6 701.2 L1435.0 583.5 L1436.3 575.8 L1437.6 563.8 L1438.9 655.4 L1440.2 608.5 L1441.6 641.0 L1442.9 588.7 L1444.2 644.2 L1445.5 600.0 L1446.8 664.3 L1448.2 605.5 L1449.5 700.7 L1450.8 626.0 L1452.1 679.2 L1453.4 625.1 L1454.8 681.4 L1456.1 625.7 L1457.4 713.2 L1458.7 619.1 L1460.0 703.6 L1461.4 634.0 L1462.7 691.6 L1464.0 692.2 L1465.3 601.4 L1466.6 703.4 L1468.0 597.3 L1469.3 676.4 L1470.6 629.6 L1471.9 618.3 L1473.2 712.4 L1474.6 635.9 L1475.9 693.3 L1477.2 566.4 L1478.5 691.9 L1479.8 713.1 L1481.2 702.5 L1482.5 634.5 L1483.8 678.3 L1485.1 622.2 L1486.4 705.1 L1487.8 621.9 L1489.1 681.7 L1490.4 585.3 L1491.7 624.1 L1493.0 678.0 L1494.4 710.7 L1495.7 672.5 L1497.0 611.1 L1498.3 686.9 L1499.6 615.4 L1501.0 682.5 L1502.3 612.1 L1503.6 638.6 L1504.9 682.3 L1506.2 617.8 L1507.6 660.1 L1508.9 604.6 L1510.2 667.4 L1511.5 610.9 L1512.8 684.2 L1514.2 611.6 L1515.5 710.6 L1516.8 736.7 L1518.1 666.8 L1519.4 615.2 L1520.8 671.6 L1522.1 631.8 L1523.4 673.2 L1524.7 599.9 L1526.0 713.1 L1527.4 590.0 L1528.7 614.8 L1530.0 668.6 L1531.3 619.4 L1532.6 653.9" fill="none" stroke="#2278b5" stroke-width="1.8" stroke-linejoin="round"/>
<path d="M857.0 258.8h0M857.6 560.0h0M859.4 646.8h0M860.8 539.8h0M862.1 460.9h0M863.4 553.1h0M864.7 495.6h0M866.0 554.9h0M867.4 467.0h0M868.7 551.9h0M870.0 561.4h0M871.3 486.2h0M872.6 556.2h0M874.0 505.3h0M875.3 537.3h0M876.6 496.9h0M877.9 550.4h0M879.2 482.3h0M880.6 561.4h0M881.9 495.7h0M883.2 552.7h0M884.5 500.7h0M885.8 554.0h0M887.2 512.8h0M888.5 433.9h0M889.8 458.8h0M891.1 580.2h0M892.4 623.2h0M893.8 538.2h0M895.1 499.7h0M896.4 542.6h0M897.7 494.5h0M899.0 571.7h0M900.4 501.0h0M901.7 556.9h0M903.0 498.7h0M904.3 587.0h0M905.6 471.7h0M907.0 541.5h0M908.3 481.6h0M909.6 557.3h0M910.9 488.4h0M912.2 528.6h0M913.6 458.4h0M914.9 555.3h0M916.2 545.0h0M917.5 476.9h0M918.8 552.3h0M920.2 486.7h0M921.5 544.9h0M922.8 467.0h0M924.1 534.5h0M925.4 472.1h0M926.8 539.6h0M928.1 449.9h0M929.4 557.9h0M930.7 499.5h0M932.0 549.3h0M933.4 474.6h0M934.7 529.2h0M936.0 470.6h0M937.3 537.8h0M938.6 485.8h0M940.0 535.0h0M941.3 472.6h0M942.6 587.0h0M943.9 432.4h0M945.2 524.4h0M946.6 479.8h0M947.9 445.7h0M949.2 489.7h0M950.5 708.3h0M951.8 533.3h0M953.2 502.0h0M954.5 545.1h0M955.8 497.5h0M957.1 546.7h0M958.4 501.6h0M959.8 559.0h0M961.1 490.7h0M962.4 439.7h0M963.7 535.4h0M965.0 490.9h0M966.4 562.7h0M967.7 515.5h0M969.0 538.2h0M970.3 510.9h0M971.6 571.5h0M973.0 508.4h0M974.3 567.8h0M975.6 500.3h0M976.9 564.8h0M978.2 512.7h0M979.6 557.9h0M980.9 485.2h0M982.2 567.3h0M983.5 517.0h0M984.8 462.3h0M986.2 521.5h0M987.5 589.1h0M988.8 532.1h0M990.1 577.3h0M991.4 508.0h0M992.8 566.8h0M994.1 517.7h0M995.4 598.4h0M996.7 450.4h0M998.0 642.1h0M999.4 498.9h0M1000.7 595.4h0M1002.0 525.8h0M1003.3 590.5h0M1004.6 538.8h0M1006.0 574.6h0M1007.3 525.3h0M1008.6 575.0h0M1009.9 551.2h0M1011.2 596.6h0M1012.6 609.2h0M1013.9 548.9h0M1015.2 633.7h0M1016.5 539.7h0M1017.8 604.0h0M1019.2 504.4h0M1020.5 598.1h0M1021.8 529.0h0M1023.1 588.8h0M1024.4 546.2h0M1025.8 608.0h0M1027.1 548.6h0M1028.4 481.2h0M1029.7 560.0h0M1031.0 618.7h0M1032.4 557.6h0M1033.7 602.9h0M1035.0 559.0h0M1036.3 561.5h0M1037.6 624.6h0M1039.0 573.2h0M1040.3 509.6h0M1041.6 557.4h0M1042.9 659.6h0M1044.2 531.5h0M1045.6 611.4h0M1046.9 559.4h0M1048.2 611.6h0M1049.5 582.3h0M1050.8 614.0h0M1052.2 537.4h0M1053.5 638.0h0M1054.8 569.1h0M1056.1 653.8h0M1057.4 576.5h0M1058.8 561.6h0M1060.1 626.0h0M1061.4 677.6h0M1062.7 588.4h0M1064.0 655.9h0M1065.4 563.3h0M1066.7 646.9h0M1068.0 565.6h0M1069.3 622.3h0M1070.6 579.7h0M1072.0 627.9h0M1073.3 549.6h0M1074.6 654.2h0M1075.9 584.0h0M1077.2 675.0h0M1078.6 585.7h0M1079.9 626.5h0M1081.2 576.6h0M1082.5 626.1h0M1083.8 586.2h0M1085.2 626.1h0M1086.5 578.3h0M1087.8 619.6h0M1089.1 569.5h0M1090.4 641.7h0M1091.8 578.5h0M1093.1 557.5h0M1094.4 624.2h0M1095.7 551.3h0M1097.0 636.7h0M1098.4 570.3h0M1099.7 519.1h0M1101.0 548.3h0M1102.3 620.2h0M1103.6 551.9h0M1105.0 628.1h0M1106.3 621.5h0M1107.6 530.1h0M1108.9 627.5h0M1110.2 625.5h0M1111.6 617.2h0M1112.9 551.0h0M1114.2 663.0h0M1115.5 679.9h0M1116.8 643.5h0M1118.2 573.9h0M1119.5 625.3h0M1120.8 549.1h0M1122.1 605.8h0M1123.4 607.4h0M1124.8 564.7h0M1126.1 622.9h0M1127.4 558.5h0M1128.7 512.7h0M1130.0 523.8h0M1131.4 575.2h0M1132.7 604.7h0M1134.0 554.4h0M1135.3 626.3h0M1136.6 556.3h0M1138.0 576.4h0M1139.3 600.7h0M1140.6 541.8h0M1141.9 617.8h0M1143.2 557.1h0M1144.6 614.9h0M1145.9 513.7h0M1147.2 673.5h0M1148.5 535.6h0M1149.8 615.2h0M1151.2 548.3h0M1152.5 643.4h0M1153.8 550.3h0M1155.1 655.8h0M1156.4 568.5h0M1157.8 607.1h0M1159.1 548.7h0M1160.4 656.9h0M1161.7 565.0h0M1163.0 610.7h0M1164.4 490.7h0M1165.7 658.6h0M1167.0 732.0h0M1168.3 973.3h0M1169.6 573.8h0M1171.0 676.8h0M1172.3 580.4h0M1173.6 611.7h0M1174.9 623.1h0M1176.2 553.9h0M1177.6 640.6h0M1178.9 574.9h0M1180.2 621.1h0M1181.5 579.5h0M1182.8 514.3h0M1184.2 581.5h0M1185.5 613.5h0M1186.8 550.4h0M1188.1 634.9h0M1189.4 571.0h0M1190.8 638.1h0M1192.1 561.9h0M1193.4 652.4h0M1194.7 582.2h0M1196.0 645.1h0M1197.4 570.9h0M1198.7 658.5h0M1200.0 589.5h0M1201.3 689.4h0M1202.6 561.8h0M1204.0 662.2h0M1205.3 582.5h0M1206.6 674.2h0M1207.9 645.5h0M1209.2 577.3h0M1210.6 646.5h0M1211.9 583.5h0M1213.2 631.1h0M1214.5 633.9h0M1215.8 584.5h0M1217.2 644.5h0M1218.5 552.2h0M1219.8 647.0h0M1221.1 559.8h0M1222.4 642.1h0M1223.8 556.1h0M1225.1 647.4h0M1226.4 572.9h0M1227.7 657.5h0M1229.0 529.9h0M1230.4 649.5h0M1231.7 585.1h0M1233.0 696.0h0M1234.3 578.5h0M1235.6 624.8h0M1237.0 543.7h0M1238.3 643.7h0M1239.6 602.3h0M1240.9 659.6h0M1242.2 568.9h0M1243.6 660.7h0M1244.9 565.9h0M1246.2 656.9h0M1247.5 602.3h0M1248.8 663.9h0M1250.2 582.1h0M1251.5 653.6h0M1252.8 601.3h0M1254.1 675.5h0M1255.4 620.6h0M1256.8 622.6h0M1258.1 678.7h0M1259.4 624.4h0M1260.7 658.9h0M1262.0 703.6h0M1263.4 662.7h0M1264.7 575.8h0M1266.0 687.2h0M1267.3 622.7h0M1268.6 681.2h0M1270.0 616.3h0M1271.3 665.7h0M1272.6 586.2h0M1273.9 676.9h0M1275.2 628.4h0M1276.6 750.9h0M1277.9 593.0h0M1279.2 668.4h0M1280.5 596.6h0M1281.8 656.5h0M1283.2 628.5h0M1284.5 654.0h0M1285.8 618.1h0M1287.1 685.6h0M1288.4 659.8h0M1289.8 600.3h0M1291.1 673.0h0M1292.4 717.8h0M1293.7 694.1h0M1295.0 598.2h0M1296.4 661.9h0M1297.7 609.7h0M1299.0 659.7h0M1300.3 604.3h0M1301.6 704.5h0M1303.0 581.9h0M1304.3 672.1h0M1305.6 703.6h0M1306.9 616.8h0M1308.2 680.4h0M1309.6 567.2h0M1310.9 706.0h0M1312.2 616.7h0M1313.5 608.8h0M1314.8 684.8h0M1316.2 611.6h0M1317.5 660.4h0M1318.8 624.6h0M1320.1 590.0h0M1321.4 602.0h0M1322.8 705.1h0M1324.1 618.6h0M1325.4 701.5h0M1326.7 678.7h0M1328.0 621.8h0M1329.4 678.0h0M1330.7 648.0h0M1332.0 633.8h0M1333.3 668.8h0M1334.6 626.1h0M1336.0 658.4h0M1337.3 621.5h0M1338.6 635.3h0M1339.9 666.0h0M1341.2 713.1h0M1342.6 700.6h0M1343.9 606.2h0M1345.2 667.2h0M1346.5 631.6h0M1347.8 625.8h0M1349.2 673.8h0M1350.5 610.8h0M1351.8 678.8h0M1353.1 619.8h0M1354.4 716.3h0M1355.8 669.0h0M1357.1 609.1h0M1358.4 691.9h0M1359.7 597.1h0M1361.0 614.4h0M1362.4 654.0h0M1363.7 609.4h0M1365.0 654.1h0M1366.3 581.5h0M1367.6 638.3h0M1369.0 589.4h0M1370.3 561.6h0M1371.6 564.0h0M1372.9 649.4h0M1374.2 584.9h0M1375.6 708.3h0M1376.9 595.7h0M1378.2 635.2h0M1379.5 591.3h0M1380.8 652.5h0M1382.2 601.7h0M1383.5 620.0h0M1384.8 594.5h0M1386.1 657.0h0M1387.4 580.9h0M1388.8 626.5h0M1390.1 590.5h0M1391.4 634.7h0M1392.7 601.2h0M1394.0 660.8h0M1395.4 542.7h0M1396.7 651.2h0M1398.0 594.5h0M1399.3 651.3h0M1400.6 698.9h0M1402.0 603.2h0M1403.3 658.2h0M1404.6 592.8h0M1405.9 632.2h0M1407.2 593.8h0M1408.6 593.0h0M1409.9 698.9h0M1411.2 638.8h0M1412.5 583.9h0M1413.8 675.8h0M1415.2 589.5h0M1416.5 701.7h0M1417.8 600.7h0M1419.1 644.9h0M1420.4 606.7h0M1421.8 634.1h0M1423.1 583.9h0M1424.4 575.2h0M1425.7 649.8h0M1427.0 602.7h0M1428.4 648.8h0M1429.7 597.5h0M1431.0 667.8h0M1432.3 586.9h0M1433.6 701.2h0M1435.0 583.5h0M1436.3 575.8h0M1437.6 563.8h0M1438.9 655.4h0M1440.2 608.5h0M1441.6 641.0h0M1442.9 588.7h0M1444.2 644.2h0M1445.5 600.0h0M1446.8 664.3h0M1448.2 605.5h0M1449.5 700.7h0M1450.8 626.0h0M1452.1 679.2h0M1453.4 625.1h0M1454.8 681.4h0M1456.1 625.7h0M1457.4 713.2h0M1458.7 619.1h0M1460.0 703.6h0M1461.4 634.0h0M1462.7 691.6h0M1464.0 692.2h0M1465.3 601.4h0M1466.6 703.4h0M1468.0 597.3h0M1469.3 676.4h0M1470.6 629.6h0M1471.9 618.3h0M1473.2 712.4h0M1474.6 635.9h0M1475.9 693.3h0M1477.2 566.4h0M1478.5 691.9h0M1479.8 713.1h0M1481.2 702.5h0M1482.5 634.5h0M1483.8 678.3h0M1485.1 622.2h0M1486.4 705.1h0M1487.8 621.9h0M1489.1 681.7h0M1490.4 585.3h0M1491.7 624.1h0M1493.0 678.0h0M1494.4 710.7h0M1495.7 672.5h0M1497.0 611.1h0M1498.3 686.9h0M1499.6 615.4h0M1501.0 682.5h0M1502.3 612.1h0M1503.6 638.6h0M1504.9 682.3h0M1506.2 617.8h0M1507.6 660.1h0M1508.9 604.6h0M1510.2 667.4h0M1511.5 610.9h0M1512.8 684.2h0M1514.2 611.6h0M1515.5 710.6h0M1516.8 736.7h0M1518.1 666.8h0M1519.4 615.2h0M1520.8 671.6h0M1522.1 631.8h0M1523.4 673.2h0M1524.7 599.9h0M1526.0 713.1h0M1527.4 590.0h0M1528.7 614.8h0M1530.0 668.6h0M1531.3 619.4h0M1532.6 653.9h0" fill="none" stroke="#2278b5" stroke-width="3.3" stroke-linecap="round"/>
<path d="M112.6 290.5 L113.4 293.6 L115.0 307.0 L115.8 293.6 L116.5 290.5 L117.6 301.5 L118.6 291.3 L119.7 303.9 L121.3 307.0 L122.1 290.5 L125.2 290.5 L126.8 295.2 L128.4 303.9 L130.7 303.9 L132.3 290.5 L133.4 293.6 L134.7 303.9 L135.9 296.8 L137.0 290.5 L147.3 290.5 L147.6 303.9 L148.0 311.7 L149.6 303.9 L154.0 303.9 L154.3 290.5 L155.9 290.5 L156.2 303.9 L159.1 303.9 L159.5 315.7 L160.0 303.9 L167.7 303.9 L168.1 297.6 L168.4 290.5 L178.0 290.5 L178.8 299.1 L180.3 303.9 L181.9 308.6 L183.0 317.3 L184.3 312.5 L185.9 298.4 L188.2 297.6 L190.6 290.5 L196.4 290.5 L196.9 298.4 L197.2 303.9 L202.4 303.9 L205.5 306.2 L207.1 311.0 L208.4 303.9 L209.8 311.0 L210.3 333.0 L210.3 349.6 L210.7 330.6 L214.7 330.6 L215.0 315.7 L215.3 303.9 L218.9 303.9 L219.7 311.3 L225.2 311.3 L226.0 303.9 L227.3 303.9 L227.6 290.5 L228.1 303.9 L232.3 303.9 L233.4 308.6 L233.6 330.6 L233.9 317.3 L241.1 317.3 L241.5 322.0 L241.8 329.9 L244.1 330.6 L244.9 333.8 L246.5 329.9 L252.0 329.9 L253.6 334.6 L255.6 338.1 L257.5 333.0 L259.1 329.9 L260.7 324.3 L262.7 316.5 L263.8 322.8 L265.4 323.6 L267.0 331.4 L268.6 339.3 L269.8 329.9 L271.7 330.6 L273.3 324.3 L277.7 323.6 L278.0 329.1 L278.8 323.6 L288.2 323.6 L289.5 332.2 L290.6 324.3 L302.4 323.9 L303.2 340.1 L304.2 323.6 L311.9 323.6 L312.7 329.9 L313.9 323.6 L317.4 324.3 L319.0 332.2 L320.9 333.8 L322.9 325.1 L326.8 329.1 L328.4 323.6 L334.7 322.8 L335.8 320.4 L337.1 322.8 L344.2 323.6 L345.7 330.6 L348.9 330.3 L350.0 324.3 L350.5 330.3 L356.3 330.3 L356.6 315.7 L357.1 303.9 L359.5 303.9 L360.2 311.0 L363.4 311.0 L363.9 297.6 L365.8 297.6 L366.5 301.5 L367.3 297.6 L368.6 315.7 L369.7 298.4 L371.0 290.5 L371.7 297.6 L372.8 306.2 L373.6 298.4 L374.9 316.5 L375.7 297.6 L385.0 297.6 L385.9 315.7 L386.5 320.4 L387.8 312.5 L389.1 303.1 L390.2 297.6 L394.9 297.6 L396.0 309.4 L397.3 298.4 L399.6 298.4 L400.4 314.1 L402.0 298.4 L404.3 298.4 L405.5 311.3 L406.7 297.6 L415.4 297.6 L417.0 311.3 L419.0 311.3 L420.1 301.5 L421.7 297.6 L422.5 303.9 L423.4 307.8 L424.4 297.6 L430.3 297.6 L431.1 311.3 L432.7 311.3 L434.3 297.6 L435.9 298.4 L436.6 311.3 L438.5 322.0 L439.0 291.3 L444.5 290.5 L446.1 286.5 L447.7 290.5 L448.9 291.3 L449.7 303.9 L451.6 307.0 L452.4 316.5 L453.2 303.9 L454.3 291.3 L459.5 290.5 L460.3 295.2 L461.8 303.9 L463.1 317.3 L463.7 330.6 L464.5 303.9 L465.8 291.3 L467.4 291.3 L468.1 311.0 L469.7 311.3 L471.0 296.8 L472.1 290.5 L480.7 290.5 L481.1 303.9 L483.9 303.9 L484.2 291.3 L493.4 290.5 L494.1 303.9 L497.3 303.9 L498.1 293.6 L499.3 291.3 L500.0 303.9 L501.5 303.9 L502.0 285.8 L503.6 284.2 L510.7 284.2 L512.3 295.2 L514.1 303.1 L515.7 290.5 L516.2 285.0 L523.3 284.2 L524.9 290.5 L525.6 298.4 L528.0 298.4 L528.8 285.8 L529.6 284.2 L532.7 284.2 L533.0 290.5 L538.2 290.5 L539.0 303.9 L539.8 291.3 L544.5 290.5 L545.7 306.2 L546.9 316.5 L547.7 293.6 L550.1 290.5 L550.9 284.2 L556.4 284.2 L557.6 293.6 L558.7 298.4 L559.8 285.0 L562.7 285.0 L563.9 298.4 L566.6 307.8 L567.4 285.8 L568.2 284.2 L573.7 284.2 L574.5 290.5 L576.1 291.3 L576.5 303.9 L580.3 303.9 L580.8 290.5 L588.7 290.5 L589.4 311.0 L591.0 311.3 L591.8 320.4 L593.4 303.9 L595.0 317.3 L596.5 320.4 L597.6 298.4 L598.9 311.0 L600.0 298.4 L600.8 315.7 L602.4 298.4 L604.7 297.6 L606.3 307.8 L607.9 315.7 L609.1 301.5 L610.2 298.4 L619.7 297.6 L620.5 311.0 L622.1 314.1 L623.3 322.0 L624.4 311.7 L626.0 311.3 L627.1 303.9 L628.4 291.3 L639.4 290.5 L639.7 303.9 L642.8 303.9 L643.3 290.5 L651.2 290.5 L652.8 303.9 L654.3 295.2 L655.9 303.9 L659.5 303.9 L660.2 290.5 L670.1 290.5 L670.6 303.9 L673.7 303.9 L674.4 290.5 L677.2 290.5 L678.0 298.4 L678.8 290.5 L682.7 290.5 L684.3 307.8 L685.1 319.1 L686.3 336.2 L688.2 351.9 L688.5 317.3 L689.5 299.9 L690.6 290.5 L700.8 290.5 L702.4 298.4 L704.0 305.9 L705.2 293.6 L706.3 290.5 L714.2 290.5 L715.3 311.3 L717.4 311.7 L718.1 298.4 L718.9 288.9 L720.5 303.9 L722.6 303.9 L723.2 290.5 L733.9 290.5 L734.2 303.9 L737.4 303.9 L738.0 290.5 L742.6 290.5 L743.0 294.4 L744.1 290.5 L745.7 290.5" fill="none" stroke="#2fa02d" stroke-width="2" stroke-linejoin="round"/>
<path d="M112.6 290.5h0M113.4 293.6h0M115.0 307.0h0M115.8 293.6h0M116.5 290.5h0M117.6 301.5h0M118.6 291.3h0M119.7 303.9h0M121.3 307.0h0M122.1 290.5h0M123.6 290.5h0M125.2 290.5h0M126.8 295.2h0M128.4 303.9h0M130.7 303.9h0M132.3 290.5h0M133.4 293.6h0M134.7 303.9h0M135.9 296.8h0M137.0 290.5h0M138.5 290.5h0M139.9 290.5h0M141.4 290.5h0M142.9 290.5h0M144.3 290.5h0M145.8 290.5h0M147.3 290.5h0M147.6 303.9h0M148.0 311.7h0M149.6 303.9h0M151.1 303.9h0M152.6 303.9h0M154.0 303.9h0M154.3 290.5h0M155.9 290.5h0M156.2 303.9h0M157.7 303.9h0M159.1 303.9h0M159.5 315.7h0M160.0 303.9h0M161.6 303.9h0M163.1 303.9h0M164.7 303.9h0M166.2 303.9h0M167.7 303.9h0M168.1 297.6h0M168.4 290.5h0M169.7 290.5h0M171.1 290.5h0M172.5 290.5h0M173.9 290.5h0M175.2 290.5h0M176.6 290.5h0M178.0 290.5h0M178.8 299.1h0M180.3 303.9h0M181.9 308.6h0M183.0 317.3h0M184.3 312.5h0M185.9 298.4h0M188.2 297.6h0M190.6 290.5h0M192.0 290.5h0M193.5 290.5h0M195.0 290.5h0M196.4 290.5h0M196.9 298.4h0M197.2 303.9h0M198.9 303.9h0M200.7 303.9h0M202.4 303.9h0M204.0 305.1h0M205.5 306.2h0M207.1 311.0h0M208.4 303.9h0M209.8 311.0h0M210.3 333.0h0M210.3 349.6h0M210.7 330.6h0M212.7 330.6h0M214.7 330.6h0M215.0 315.7h0M215.3 303.9h0M217.1 303.9h0M218.9 303.9h0M219.7 311.3h0M221.1 311.3h0M222.5 311.3h0M223.9 311.3h0M225.2 311.3h0M226.0 303.9h0M227.3 303.9h0M227.6 290.5h0M228.1 303.9h0M229.5 303.9h0M230.9 303.9h0M232.3 303.9h0M233.4 308.6h0M233.6 330.6h0M233.9 317.3h0M235.3 317.3h0M236.8 317.3h0M238.2 317.3h0M239.7 317.3h0M241.1 317.3h0M241.5 322.0h0M241.8 329.9h0M244.1 330.6h0M244.9 333.8h0M246.5 329.9h0M247.9 329.9h0M249.3 329.9h0M250.6 329.9h0M252.0 329.9h0M253.6 334.6h0M255.6 338.1h0M257.5 333.0h0M259.1 329.9h0M260.7 324.3h0M262.7 316.5h0M263.8 322.8h0M265.4 323.6h0M267.0 331.4h0M268.6 339.3h0M269.8 329.9h0M271.7 330.6h0M273.3 324.3h0M274.8 324.1h0M276.2 323.8h0M277.7 323.6h0M278.0 329.1h0M278.8 323.6h0M280.1 323.6h0M281.5 323.6h0M282.8 323.6h0M284.2 323.6h0M285.5 323.6h0M286.9 323.6h0M288.2 323.6h0M289.5 332.2h0M290.6 324.3h0M292.1 324.3h0M293.6 324.2h0M295.0 324.2h0M296.5 324.1h0M298.0 324.1h0M299.5 324.0h0M300.9 323.9h0M302.4 323.9h0M303.2 340.1h0M304.2 323.6h0M305.7 323.6h0M307.2 323.6h0M308.8 323.6h0M310.3 323.6h0M311.9 323.6h0M312.7 329.9h0M313.9 323.6h0M315.7 324.0h0M317.4 324.3h0M319.0 332.2h0M320.9 333.8h0M322.9 325.1h0M324.9 327.1h0M326.8 329.1h0M328.4 323.6h0M330.0 323.4h0M331.6 323.2h0M333.1 323.0h0M334.7 322.8h0M335.8 320.4h0M337.1 322.8h0M338.5 322.9h0M339.9 323.1h0M341.3 323.2h0M342.8 323.4h0M344.2 323.6h0M345.7 330.6h0M347.3 330.5h0M348.9 330.3h0M350.0 324.3h0M350.5 330.3h0M351.9 330.3h0M353.4 330.3h0M354.8 330.3h0M356.3 330.3h0M356.6 315.7h0M357.1 303.9h0M359.5 303.9h0M360.2 311.0h0M361.8 311.0h0M363.4 311.0h0M363.9 297.6h0M365.8 297.6h0M366.5 301.5h0M367.3 297.6h0M368.6 315.7h0M369.7 298.4h0M371.0 290.5h0M371.7 297.6h0M372.8 306.2h0M373.6 298.4h0M374.9 316.5h0M375.7 297.6h0M377.0 297.6h0M378.3 297.6h0M379.7 297.6h0M381.0 297.6h0M382.3 297.6h0M383.6 297.6h0M385.0 297.6h0M385.9 315.7h0M386.5 320.4h0M387.8 312.5h0M389.1 303.1h0M390.2 297.6h0M391.7 297.6h0M393.3 297.6h0M394.9 297.6h0M396.0 309.4h0M397.3 298.4h0M399.6 298.4h0M400.4 314.1h0M402.0 298.4h0M404.3 298.4h0M405.5 311.3h0M406.7 297.6h0M408.2 297.6h0M409.6 297.6h0M411.0 297.6h0M412.5 297.6h0M413.9 297.6h0M415.4 297.6h0M417.0 311.3h0M419.0 311.3h0M420.1 301.5h0M421.7 297.6h0M422.5 303.9h0M423.4 307.8h0M424.4 297.6h0M425.9 297.6h0M427.3 297.6h0M428.8 297.6h0M430.3 297.6h0M431.1 311.3h0M432.7 311.3h0M434.3 297.6h0M435.9 298.4h0M436.6 311.3h0M438.5 322.0h0M439.0 291.3h0M440.4 291.1h0M441.8 290.9h0M443.1 290.7h0M444.5 290.5h0M446.1 286.5h0M447.7 290.5h0M448.9 291.3h0M449.7 303.9h0M451.6 307.0h0M452.4 316.5h0M453.2 303.9h0M454.3 291.3h0M456.0 291.0h0M457.8 290.7h0M459.5 290.5h0M460.3 295.2h0M461.8 303.9h0M463.1 317.3h0M463.7 330.6h0M464.5 303.9h0M465.8 291.3h0M467.4 291.3h0M468.1 311.0h0M469.7 311.3h0M471.0 296.8h0M472.1 290.5h0M473.5 290.5h0M475.0 290.5h0M476.4 290.5h0M477.9 290.5h0M479.3 290.5h0M480.7 290.5h0M481.1 303.9h0M482.5 303.9h0M483.9 303.9h0M484.2 291.3h0M485.7 291.1h0M487.3 291.0h0M488.8 290.9h0M490.3 290.7h0M491.8 290.6h0M493.4 290.5h0M494.1 303.9h0M495.7 303.9h0M497.3 303.9h0M498.1 293.6h0M499.3 291.3h0M500.0 303.9h0M501.5 303.9h0M502.0 285.8h0M503.6 284.2h0M505.0 284.2h0M506.4 284.2h0M507.8 284.2h0M509.3 284.2h0M510.7 284.2h0M512.3 295.2h0M514.1 303.1h0M515.7 290.5h0M516.2 285.0h0M517.6 284.8h0M519.0 284.7h0M520.4 284.5h0M521.9 284.3h0M523.3 284.2h0M524.9 290.5h0M525.6 298.4h0M528.0 298.4h0M528.8 285.8h0M529.6 284.2h0M531.2 284.2h0M532.7 284.2h0M533.0 290.5h0M534.8 290.5h0M536.5 290.5h0M538.2 290.5h0M539.0 303.9h0M539.8 291.3h0M541.4 291.0h0M543.0 290.7h0M544.5 290.5h0M545.7 306.2h0M546.9 316.5h0M547.7 293.6h0M550.1 290.5h0M550.9 284.2h0M552.2 284.2h0M553.6 284.2h0M555.0 284.2h0M556.4 284.2h0M557.6 293.6h0M558.7 298.4h0M559.8 285.0h0M561.2 285.0h0M562.7 285.0h0M563.9 298.4h0M565.3 303.1h0M566.6 307.8h0M567.4 285.8h0M568.2 284.2h0M569.6 284.2h0M570.9 284.2h0M572.3 284.2h0M573.7 284.2h0M574.5 290.5h0M576.1 291.3h0M576.5 303.9h0M578.4 303.9h0M580.3 303.9h0M580.8 290.5h0M582.4 290.5h0M583.9 290.5h0M585.5 290.5h0M587.1 290.5h0M588.7 290.5h0M589.4 311.0h0M591.0 311.3h0M591.8 320.4h0M593.4 303.9h0M595.0 317.3h0M596.5 320.4h0M597.6 298.4h0M598.9 311.0h0M600.0 298.4h0M600.8 315.7h0M602.4 298.4h0M604.7 297.6h0M606.3 307.8h0M607.9 315.7h0M609.1 301.5h0M610.2 298.4h0M611.6 298.2h0M612.9 298.1h0M614.3 298.0h0M615.6 297.9h0M617.0 297.8h0M618.3 297.7h0M619.7 297.6h0M620.5 311.0h0M622.1 314.1h0M623.3 322.0h0M624.4 311.7h0M626.0 311.3h0M627.1 303.9h0M628.4 291.3h0M629.7 291.2h0M631.1 291.1h0M632.5 291.0h0M633.9 290.9h0M635.2 290.8h0M636.6 290.7h0M638.0 290.6h0M639.4 290.5h0M639.7 303.9h0M641.3 303.9h0M642.8 303.9h0M643.3 290.5h0M644.9 290.5h0M646.5 290.5h0M648.0 290.5h0M649.6 290.5h0M651.2 290.5h0M652.8 303.9h0M654.3 295.2h0M655.9 303.9h0M657.7 303.9h0M659.5 303.9h0M660.2 290.5h0M661.6 290.5h0M663.0 290.5h0M664.4 290.5h0M665.8 290.5h0M667.3 290.5h0M668.7 290.5h0M670.1 290.5h0M670.6 303.9h0M672.1 303.9h0M673.7 303.9h0M674.4 290.5h0M675.8 290.5h0M677.2 290.5h0M678.0 298.4h0M678.8 290.5h0M680.7 290.5h0M682.7 290.5h0M684.3 307.8h0M685.1 319.1h0M686.3 336.2h0M688.2 351.9h0M688.5 317.3h0M689.5 299.9h0M690.6 290.5h0M692.0 290.5h0M693.5 290.5h0M695.0 290.5h0M696.4 290.5h0M697.9 290.5h0M699.4 290.5h0M700.8 290.5h0M702.4 298.4h0M704.0 305.9h0M705.2 293.6h0M706.3 290.5h0M707.9 290.5h0M709.5 290.5h0M711.1 290.5h0M712.6 290.5h0M714.2 290.5h0M715.3 311.3h0M717.4 311.7h0M718.1 298.4h0M718.9 288.9h0M720.5 303.9h0M722.6 303.9h0M723.2 290.5h0M724.5 290.5h0M725.9 290.5h0M727.2 290.5h0M728.5 290.5h0M729.9 290.5h0M731.2 290.5h0M732.6 290.5h0M733.9 290.5h0M734.2 303.9h0M735.8 303.9h0M737.4 303.9h0M738.0 290.5h0M739.5 290.5h0M741.0 290.5h0M742.6 290.5h0M743.0 294.4h0M744.1 290.5h0M745.7 290.5h0" fill="none" stroke="#2fa02d" stroke-width="3.8" stroke-linecap="round"/>
<path d="M755.2 298.0 L765.1 298.0 L765.4 311.0 L765.7 348.8 L766.4 311.3 L768.6 311.3 L768.9 298.4 L778.0 298.0 L778.8 311.3 L781.2 311.7 L782.7 303.9 L783.5 311.3 L786.2 311.3 L787.1 298.0 L788.7 297.6 L789.0 290.5 L789.7 298.0 L795.3 298.4 L796.9 306.2 L798.8 312.8 L799.7 301.5 L800.4 290.5 L809.5 290.5 L810.3 303.9 L812.7 303.9 L814.2 311.3 L816.1 321.7 L817.4 303.9 L818.2 291.3 L821.8 290.5 L822.4 307.8 L823.7 343.3 L826.1 350.0 L828.4 343.3 L829.2 311.3 L830.8 303.9 L832.4 291.3 L836.3 290.5 L838.7 288.9 L841.0 285.0 L843.4 298.4 L845.0 284.2 L845.7 277.1 L848.9 277.1 L850.0 292.0 L850.5 279.4 L852.4 273.1 L854.7 272.3 L856.0 277.8 L857.1 291.2 L857.9 284.9 L862.3 285.7 L863.4 273.9 L872.1 272.3 L873.6 284.9 L876.0 285.7 L877.1 273.9 L879.1 272.3 L879.9 277.8 L881.2 273.9 L882.3 265.2 L883.4 258.9 L889.4 258.9 L889.5 307.7 L891.7 331.4 L893.8 336.9 L895.7 321.9 L896.5 317.2 L897.6 304.6 L897.9 298.3 L898.2 262.1 L899.1 258.9 L904.3 258.9 L905.1 272.3 L906.7 278.6 L908.0 263.6 L908.6 258.9 L910.2 259.7 L911.1 272.3 L913.3 272.3 L913.8 259.7 L924.0 258.9 L924.4 272.3 L926.9 272.3 L927.5 258.9 L936.6 258.9 L938.2 265.2 L938.5 277.8 L939.8 266.8 L941.4 272.3 L942.9 265.2 L944.5 277.8 L945.8 263.6 L946.9 272.3 L950.0 272.3 L950.8 292.0 L951.6 315.6 L952.4 301.4 L953.2 273.9 L954.8 276.2 L955.5 287.3 L958.7 285.7 L960.3 273.9 L963.4 272.3 L970.5 272.3 L972.1 279.4 L973.7 285.7 L975.2 291.2 L976.0 279.4 L976.8 266.0 L978.4 264.9 L987.1 264.9 L987.8 273.9 L988.6 282.8 L989.9 266.0 L991.5 266.0 L992.1 287.3 L992.7 292.8 L993.7 266.0 L994.6 264.9 L1002.0 264.9 L1003.1 271.5 L1004.1 278.6 L1006.0 290.4 L1006.7 278.6 L1027.2 277.8 L1028.0 285.7 L1029.1 291.2 L1030.4 285.7 L1031.9 284.9 L1032.7 273.1 L1033.5 272.3 L1045.3 272.3 L1046.1 277.8 L1051.6 278.1 L1052.4 285.7 L1062.7 285.7 L1063.9 278.6 L1065.0 277.8 L1081.6 277.8 L1082.4 281.0 L1083.1 277.8 L1084.7 277.8 L1085.5 272.3 L1095.7 272.3 L1096.5 281.0 L1098.9 281.3 L1100.0 277.8 L1107.1 277.8 L1107.9 286.5 L1108.7 278.1 L1114.2 277.8 L1115.0 284.9 L1117.3 285.7 L1118.6 277.8 L1129.9 277.8 L1130.7 291.2 L1131.5 277.8 L1146.5 277.8 L1147.3 284.1 L1148.0 292.8 L1148.8 291.2 L1155.1 291.2 L1155.5 284.9 L1163.8 284.9 L1164.6 289.6 L1167.0 291.7 L1169.3 292.0 L1170.1 290.7 L1187.4 290.7 L1188.2 298.3 L1189.0 302.2 L1190.1 291.2 L1194.5 290.7 L1196.1 294.3 L1197.4 299.9 L1198.5 303.8 L1199.2 298.3 L1205.5 298.0 L1206.8 302.2 L1207.9 298.0 L1215.0 298.0 L1216.3 292.0 L1217.4 290.7 L1220.0 290.7 L1221.3 296.7 L1224.4 298.3 L1225.6 303.3 L1226.5 298.0 L1233.1 298.0 L1233.9 300.6 L1235.5 298.0 L1244.9 298.0 L1246.5 301.4 L1247.4 304.9 L1248.4 298.3 L1249.7 292.0 L1250.9 290.7 L1252.0 299.1 L1253.1 290.7 L1263.8 290.7 L1266.2 294.8 L1267.8 290.7 L1273.3 290.7 L1273.8 285.7 L1274.1 302.2 L1275.2 318.8 L1276.1 336.9 L1276.7 303.0 L1277.7 285.7 L1278.8 284.9 L1282.4 284.9 L1282.7 291.2 L1288.2 291.2 L1289.0 284.9 L1290.6 287.3 L1293.0 291.2 L1294.1 285.7 L1295.3 285.7 L1304.8 284.6 L1316.6 284.1 L1317.1 290.4 L1319.8 291.2 L1320.5 284.9 L1325.0 284.9 L1325.6 291.2 L1335.5 291.2 L1336.3 284.9 L1337.0 284.9 L1338.3 284.1 L1338.9 290.4 L1340.2 284.1 L1350.4 284.1 L1352.0 287.3 L1353.5 294.3 L1354.6 285.7 L1355.1 284.9 L1378.0 284.9 L1379.5 290.4 L1382.7 291.2 L1383.9 285.7 L1384.6 277.8 L1386.6 281.0 L1387.4 277.8 L1389.0 283.3 L1390.6 278.6 L1397.6 277.8 L1398.8 284.9 L1410.7 284.9 L1411.4 290.4 L1414.2 290.4 L1415.0 284.1 L1415.8 277.8 L1437.8 277.8 L1439.4 281.7 L1441.0 285.7 L1442.2 279.4 L1445.7 277.5 L1448.1 280.6 L1449.6 277.5 L1453.6 277.5 L1454.4 273.9 L1455.1 277.5 L1463.0 277.5 L1464.6 288.8 L1465.9 278.6 L1467.7 279.4 L1469.3 277.5 L1475.3 277.5 L1475.9 272.3 L1479.6 271.5 L1480.4 277.8 L1481.9 272.3 L1489.0 271.5 L1490.1 277.0 L1491.1 282.8 L1492.6 277.8 L1493.7 272.3 L1499.3 272.3 L1500.0 277.8 L1506.8 277.8 L1507.4 272.3 L1513.7 272.3 L1514.7 284.1 L1515.8 285.7 L1523.7 285.7 L1524.5 273.1 L1525.2 272.3 L1529.2 271.5 L1530.4 279.4 L1531.5 273.1 L1533.1 273.1" fill="none" stroke="#2fa02d" stroke-width="2" stroke-linejoin="round"/>
<path d="M755.2 298.0h0M756.6 298.0h0M758.0 298.0h0M759.4 298.0h0M760.8 298.0h0M762.3 298.0h0M763.7 298.0h0M765.1 298.0h0M765.4 311.0h0M765.7 348.8h0M766.4 311.3h0M768.6 311.3h0M768.9 298.4h0M770.4 298.3h0M771.9 298.3h0M773.4 298.2h0M775.0 298.1h0M776.5 298.1h0M778.0 298.0h0M778.8 311.3h0M781.2 311.7h0M782.7 303.9h0M783.5 311.3h0M784.9 311.3h0M786.2 311.3h0M787.1 298.0h0M788.7 297.6h0M789.0 290.5h0M789.7 298.0h0M791.1 298.1h0M792.5 298.2h0M793.9 298.3h0M795.3 298.4h0M796.9 306.2h0M798.8 312.8h0M799.7 301.5h0M800.4 290.5h0M801.9 290.5h0M803.4 290.5h0M804.9 290.5h0M806.5 290.5h0M808.0 290.5h0M809.5 290.5h0M810.3 303.9h0M812.7 303.9h0M814.2 311.3h0M816.1 321.7h0M817.4 303.9h0M818.2 291.3h0M820.0 290.9h0M821.8 290.5h0M822.4 307.8h0M823.7 343.3h0M826.1 350.0h0M828.4 343.3h0M829.2 311.3h0M830.8 303.9h0M832.4 291.3h0M834.3 290.9h0M836.3 290.5h0M838.7 288.9h0M841.0 285.0h0M843.4 298.4h0M845.0 284.2h0M845.7 277.1h0M847.3 277.1h0M848.9 277.1h0M850.0 292.0h0M850.5 279.4h0M852.4 273.1h0M854.7 272.3h0M856.0 277.8h0M857.1 291.2h0M857.9 284.9h0M859.3 285.2h0M860.8 285.4h0M862.3 285.7h0M863.4 273.9h0M864.8 273.6h0M866.3 273.3h0M867.7 273.1h0M869.2 272.8h0M870.6 272.6h0M872.1 272.3h0M873.6 284.9h0M876.0 285.7h0M877.1 273.9h0M879.1 272.3h0M879.9 277.8h0M881.2 273.9h0M882.3 265.2h0M883.4 258.9h0M884.9 258.9h0M886.4 258.9h0M887.9 258.9h0M889.4 258.9h0M889.5 307.7h0M891.7 331.4h0M893.8 336.9h0M895.7 321.9h0M896.5 317.2h0M897.6 304.6h0M897.9 298.3h0M898.2 262.1h0M899.1 258.9h0M900.9 258.9h0M902.6 258.9h0M904.3 258.9h0M905.1 272.3h0M906.7 278.6h0M908.0 263.6h0M908.6 258.9h0M910.2 259.7h0M911.1 272.3h0M913.3 272.3h0M913.8 259.7h0M915.3 259.6h0M916.7 259.5h0M918.2 259.4h0M919.7 259.2h0M921.1 259.1h0M922.6 259.0h0M924.0 258.9h0M924.4 272.3h0M926.9 272.3h0M927.5 258.9h0M929.0 258.9h0M930.6 258.9h0M932.1 258.9h0M933.6 258.9h0M935.1 258.9h0M936.6 258.9h0M938.2 265.2h0M938.5 277.8h0M939.8 266.8h0M941.4 272.3h0M942.9 265.2h0M944.5 277.8h0M945.8 263.6h0M946.9 272.3h0M948.5 272.3h0M950.0 272.3h0M950.8 292.0h0M951.6 315.6h0M952.4 301.4h0M953.2 273.9h0M954.8 276.2h0M955.5 287.3h0M957.1 286.5h0M958.7 285.7h0M960.3 273.9h0M961.8 273.1h0M963.4 272.3h0M964.8 272.3h0M966.3 272.3h0M967.7 272.3h0M969.1 272.3h0M970.5 272.3h0M972.1 279.4h0M973.7 285.7h0M975.2 291.2h0M976.0 279.4h0M976.8 266.0h0M978.4 264.9h0M979.8 264.9h0M981.3 264.9h0M982.7 264.9h0M984.2 264.9h0M985.6 264.9h0M987.1 264.9h0M987.8 273.9h0M988.6 282.8h0M989.9 266.0h0M991.5 266.0h0M992.1 287.3h0M992.7 292.8h0M993.7 266.0h0M994.6 264.9h0M996.1 264.9h0M997.6 264.9h0M999.1 264.9h0M1000.5 264.9h0M1002.0 264.9h0M1003.1 271.5h0M1004.1 278.6h0M1006.0 290.4h0M1006.7 278.6h0M1008.1 278.5h0M1009.5 278.5h0M1010.8 278.4h0M1012.2 278.4h0M1013.6 278.3h0M1014.9 278.3h0M1016.3 278.2h0M1017.7 278.2h0M1019.0 278.1h0M1020.4 278.1h0M1021.8 278.0h0M1023.1 278.0h0M1024.5 277.9h0M1025.9 277.9h0M1027.2 277.8h0M1028.0 285.7h0M1029.1 291.2h0M1030.4 285.7h0M1031.9 284.9h0M1032.7 273.1h0M1033.5 272.3h0M1035.0 272.3h0M1036.5 272.3h0M1038.0 272.3h0M1039.4 272.3h0M1040.9 272.3h0M1042.4 272.3h0M1043.9 272.3h0M1045.3 272.3h0M1046.1 277.8h0M1047.5 277.9h0M1048.9 278.0h0M1050.3 278.0h0M1051.6 278.1h0M1052.4 285.7h0M1053.9 285.7h0M1055.4 285.7h0M1056.8 285.7h0M1058.3 285.7h0M1059.7 285.7h0M1061.2 285.7h0M1062.7 285.7h0M1063.9 278.6h0M1065.0 277.8h0M1066.4 277.8h0M1067.8 277.8h0M1069.2 277.8h0M1070.5 277.8h0M1071.9 277.8h0M1073.3 277.8h0M1074.7 277.8h0M1076.1 277.8h0M1077.4 277.8h0M1078.8 277.8h0M1080.2 277.8h0M1081.6 277.8h0M1082.4 281.0h0M1083.1 277.8h0M1084.7 277.8h0M1085.5 272.3h0M1087.0 272.3h0M1088.4 272.3h0M1089.9 272.3h0M1091.4 272.3h0M1092.8 272.3h0M1094.3 272.3h0M1095.7 272.3h0M1096.5 281.0h0M1098.9 281.3h0M1100.0 277.8h0M1101.4 277.8h0M1102.8 277.8h0M1104.3 277.8h0M1105.7 277.8h0M1107.1 277.8h0M1107.9 286.5h0M1108.7 278.1h0M1110.0 278.0h0M1111.4 278.0h0M1112.8 277.9h0M1114.2 277.8h0M1115.0 284.9h0M1117.3 285.7h0M1118.6 277.8h0M1120.0 277.8h0M1121.4 277.8h0M1122.8 277.8h0M1124.3 277.8h0M1125.7 277.8h0M1127.1 277.8h0M1128.5 277.8h0M1129.9 277.8h0M1130.7 291.2h0M1131.5 277.8h0M1132.9 277.8h0M1134.2 277.8h0M1135.6 277.8h0M1136.9 277.8h0M1138.3 277.8h0M1139.7 277.8h0M1141.0 277.8h0M1142.4 277.8h0M1143.8 277.8h0M1145.1 277.8h0M1146.5 277.8h0M1147.3 284.1h0M1148.0 292.8h0M1148.8 291.2h0M1150.4 291.2h0M1152.0 291.2h0M1153.6 291.2h0M1155.1 291.2h0M1155.5 284.9h0M1156.8 284.9h0M1158.2 284.9h0M1159.6 284.9h0M1161.0 284.9h0M1162.4 284.9h0M1163.8 284.9h0M1164.6 289.6h0M1167.0 291.7h0M1169.3 292.0h0M1170.1 290.7h0M1171.4 290.7h0M1172.8 290.7h0M1174.1 290.7h0M1175.4 290.7h0M1176.8 290.7h0M1178.1 290.7h0M1179.4 290.7h0M1180.8 290.7h0M1182.1 290.7h0M1183.4 290.7h0M1184.8 290.7h0M1186.1 290.7h0M1187.4 290.7h0M1188.2 298.3h0M1189.0 302.2h0M1190.1 291.2h0M1191.6 291.0h0M1193.0 290.9h0M1194.5 290.7h0M1196.1 294.3h0M1197.4 299.9h0M1198.5 303.8h0M1199.2 298.3h0M1200.8 298.2h0M1202.4 298.1h0M1204.0 298.0h0M1205.5 298.0h0M1206.8 302.2h0M1207.9 298.0h0M1209.3 298.0h0M1210.7 298.0h0M1212.2 298.0h0M1213.6 298.0h0M1215.0 298.0h0M1216.3 292.0h0M1217.4 290.7h0M1218.7 290.7h0M1220.0 290.7h0M1221.3 296.7h0M1222.9 297.5h0M1224.4 298.3h0M1225.6 303.3h0M1226.5 298.0h0M1227.8 298.0h0M1229.1 298.0h0M1230.5 298.0h0M1231.8 298.0h0M1233.1 298.0h0M1233.9 300.6h0M1235.5 298.0h0M1236.8 298.0h0M1238.2 298.0h0M1239.5 298.0h0M1240.9 298.0h0M1242.2 298.0h0M1243.6 298.0h0M1244.9 298.0h0M1246.5 301.4h0M1247.4 304.9h0M1248.4 298.3h0M1249.7 292.0h0M1250.9 290.7h0M1252.0 299.1h0M1253.1 290.7h0M1254.5 290.7h0M1255.8 290.7h0M1257.1 290.7h0M1258.5 290.7h0M1259.8 290.7h0M1261.2 290.7h0M1262.5 290.7h0M1263.8 290.7h0M1266.2 294.8h0M1267.8 290.7h0M1269.1 290.7h0M1270.5 290.7h0M1271.9 290.7h0M1273.3 290.7h0M1273.8 285.7h0M1274.1 302.2h0M1275.2 318.8h0M1276.1 336.9h0M1276.7 303.0h0M1277.7 285.7h0M1278.8 284.9h0M1280.6 284.9h0M1282.4 284.9h0M1282.7 291.2h0M1284.1 291.2h0M1285.5 291.2h0M1286.9 291.2h0M1288.2 291.2h0M1289.0 284.9h0M1290.6 287.3h0M1293.0 291.2h0M1294.1 285.7h0M1295.3 285.7h0M1296.7 285.5h0M1298.0 285.4h0M1299.4 285.2h0M1300.7 285.1h0M1302.1 284.9h0M1303.4 284.7h0M1304.8 284.6h0M1306.3 284.5h0M1307.7 284.5h0M1309.2 284.4h0M1310.7 284.3h0M1312.2 284.3h0M1313.6 284.2h0M1315.1 284.2h0M1316.6 284.1h0M1317.1 290.4h0M1318.4 290.8h0M1319.8 291.2h0M1320.5 284.9h0M1322.0 284.9h0M1323.5 284.9h0M1325.0 284.9h0M1325.6 291.2h0M1327.0 291.2h0M1328.4 291.2h0M1329.8 291.2h0M1331.3 291.2h0M1332.7 291.2h0M1334.1 291.2h0M1335.5 291.2h0M1336.3 284.9h0M1337.0 284.9h0M1338.3 284.1h0M1338.9 290.4h0M1340.2 284.1h0M1341.6 284.1h0M1343.1 284.1h0M1344.5 284.1h0M1346.0 284.1h0M1347.5 284.1h0M1348.9 284.1h0M1350.4 284.1h0M1352.0 287.3h0M1353.5 294.3h0M1354.6 285.7h0M1355.1 284.9h0M1356.5 284.9h0M1357.8 284.9h0M1359.1 284.9h0M1360.5 284.9h0M1361.8 284.9h0M1363.2 284.9h0M1364.5 284.9h0M1365.9 284.9h0M1367.2 284.9h0M1368.6 284.9h0M1369.9 284.9h0M1371.2 284.9h0M1372.6 284.9h0M1373.9 284.9h0M1375.3 284.9h0M1376.6 284.9h0M1378.0 284.9h0M1379.5 290.4h0M1381.1 290.8h0M1382.7 291.2h0M1383.9 285.7h0M1384.6 277.8h0M1386.6 281.0h0M1387.4 277.8h0M1389.0 283.3h0M1390.6 278.6h0M1392.0 278.4h0M1393.4 278.3h0M1394.8 278.1h0M1396.2 278.0h0M1397.6 277.8h0M1398.8 284.9h0M1400.1 284.9h0M1401.4 284.9h0M1402.7 284.9h0M1404.1 284.9h0M1405.4 284.9h0M1406.7 284.9h0M1408.1 284.9h0M1409.4 284.9h0M1410.7 284.9h0M1411.4 290.4h0M1412.8 290.4h0M1414.2 290.4h0M1415.0 284.1h0M1415.8 277.8h0M1417.1 277.8h0M1418.5 277.8h0M1419.9 277.8h0M1421.3 277.8h0M1422.7 277.8h0M1424.0 277.8h0M1425.4 277.8h0M1426.8 277.8h0M1428.2 277.8h0M1429.5 277.8h0M1430.9 277.8h0M1432.3 277.8h0M1433.7 277.8h0M1435.1 277.8h0M1436.4 277.8h0M1437.8 277.8h0M1439.4 281.7h0M1441.0 285.7h0M1442.2 279.4h0M1444.0 278.4h0M1445.7 277.5h0M1448.1 280.6h0M1449.6 277.5h0M1451.6 277.5h0M1453.6 277.5h0M1454.4 273.9h0M1455.1 277.5h0M1456.7 277.5h0M1458.3 277.5h0M1459.9 277.5h0M1461.4 277.5h0M1463.0 277.5h0M1464.6 288.8h0M1465.9 278.6h0M1467.7 279.4h0M1469.3 277.5h0M1470.8 277.5h0M1472.3 277.5h0M1473.8 277.5h0M1475.3 277.5h0M1475.9 272.3h0M1477.8 271.9h0M1479.6 271.5h0M1480.4 277.8h0M1481.9 272.3h0M1483.3 272.1h0M1484.8 272.0h0M1486.2 271.8h0M1487.6 271.7h0M1489.0 271.5h0M1490.1 277.0h0M1491.1 282.8h0M1492.6 277.8h0M1493.7 272.3h0M1495.1 272.3h0M1496.5 272.3h0M1497.9 272.3h0M1499.3 272.3h0M1500.0 277.8h0M1501.4 277.8h0M1502.8 277.8h0M1504.1 277.8h0M1505.5 277.8h0M1506.8 277.8h0M1507.4 272.3h0M1509.0 272.3h0M1510.6 272.3h0M1512.2 272.3h0M1513.7 272.3h0M1514.7 284.1h0M1515.8 285.7h0M1517.4 285.7h0M1518.9 285.7h0M1520.5 285.7h0M1522.1 285.7h0M1523.7 285.7h0M1524.5 273.1h0M1525.2 272.3h0M1527.2 271.9h0M1529.2 271.5h0M1530.4 279.4h0M1531.5 273.1h0M1533.1 273.1h0" fill="none" stroke="#2fa02d" stroke-width="3.8" stroke-linecap="round"/>
<g font-weight="bold" font-size="21">
<text x="307" y="1129" fill="#adadad" textLength="88" lengthAdjust="spacingAndGlyphs">(Search)</text>
<line x1="414" x2="440" y1="1122.5" y2="1122.5" stroke="#f9d3ab" stroke-width="3.5"/><circle cx="427" cy="1122.5" r="4.5" fill="#f6c48e"/>
<text x="447" y="1129" fill="#adadad" textLength="348" lengthAdjust="spacingAndGlyphs">Telescope (# Unique Source IPs)</text>
<line x1="818" x2="844" y1="1122.5" y2="1122.5" stroke="#2fa02d" stroke-width="3.5"/><circle cx="831" cy="1122.5" r="4.5" fill="#2fa02d"/>
<text x="851" y="1129" fill="#444" textLength="208" lengthAdjust="spacingAndGlyphs">BGP (#Visible /24s)</text>
<line x1="1083" x2="1109" y1="1122.5" y2="1122.5" stroke="#2278b5" stroke-width="3.5"/><circle cx="1096" cy="1122.5" r="4.5" fill="#2278b5"/>
<text x="1116" y="1129" fill="#444" textLength="280" lengthAdjust="spacingAndGlyphs">Active Probing (#/24s Up)</text>
</g>
<ellipse cx="526.5" cy="60.4" rx="13.3" ry="12.8" fill="url(#gq)"/>
<text x="526.5" y="68.2" text-anchor="middle" font-size="19.5" font-weight="bold" fill="#fff">?</text>
<rect x="1438" y="30.0" width="78" height="32.8" rx="7" fill="url(#gb)"/>
<rect x="1483.5" y="30.5" width="32" height="31.8" rx="6.5" fill="url(#gk)" stroke="#7f8589" stroke-width="1.4"/>
<text x="1446" y="52.7" font-size="17.6" fill="#fff">ON</text>
<rect x="1438" y="82.2" width="78" height="32.8" rx="7" fill="url(#gb)"/>
<rect x="1483.5" y="82.7" width="32" height="31.8" rx="6.5" fill="url(#gk)" stroke="#7f8589" stroke-width="1.4"/>
<text x="1446" y="104.9" font-size="17.6" fill="#fff">ON</text>
</svg>
<div class="title" id="title">Internet Connectivity for Myanmar</div>
<div class="lab" id="l1" style="top:35px">Alert Bands</div>
<div class="lab" id="l2" style="top:87px">Normalized Values</div>
<div class="foot" id="foot">April 1, 2022 5:00pm — June 30, 2022 4:59pm</div>
</body></html>
